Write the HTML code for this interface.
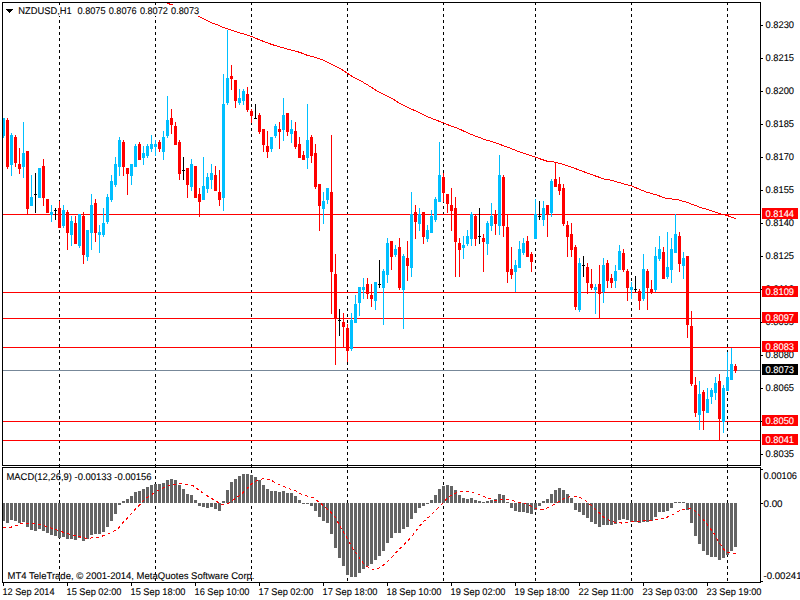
<!DOCTYPE html>
<html><head><meta charset="utf-8"><style>
html,body{margin:0;padding:0;background:#fff;width:800px;height:600px;overflow:hidden}
svg{display:block}
text{font-family:"Liberation Sans",sans-serif;text-rendering:geometricPrecision}
</style></head><body>
<svg width="800" height="600" viewBox="0 0 800 600" shape-rendering="crispEdges">
<rect x="0" y="0" width="800" height="600" fill="#fff"/>
<rect x="59" y="3" width="1" height="2" fill="#000"/>
<rect x="59" y="8" width="1" height="3" fill="#000"/>
<rect x="59" y="14" width="1" height="3" fill="#000"/>
<rect x="59" y="20" width="1" height="3" fill="#000"/>
<rect x="59" y="26" width="1" height="3" fill="#000"/>
<rect x="59" y="32" width="1" height="3" fill="#000"/>
<rect x="59" y="38" width="1" height="3" fill="#000"/>
<rect x="59" y="44" width="1" height="3" fill="#000"/>
<rect x="59" y="50" width="1" height="3" fill="#000"/>
<rect x="59" y="56" width="1" height="3" fill="#000"/>
<rect x="59" y="62" width="1" height="3" fill="#000"/>
<rect x="59" y="68" width="1" height="3" fill="#000"/>
<rect x="59" y="74" width="1" height="3" fill="#000"/>
<rect x="59" y="80" width="1" height="3" fill="#000"/>
<rect x="59" y="86" width="1" height="3" fill="#000"/>
<rect x="59" y="92" width="1" height="3" fill="#000"/>
<rect x="59" y="98" width="1" height="3" fill="#000"/>
<rect x="59" y="104" width="1" height="3" fill="#000"/>
<rect x="59" y="110" width="1" height="3" fill="#000"/>
<rect x="59" y="116" width="1" height="3" fill="#000"/>
<rect x="59" y="122" width="1" height="3" fill="#000"/>
<rect x="59" y="128" width="1" height="3" fill="#000"/>
<rect x="59" y="134" width="1" height="3" fill="#000"/>
<rect x="59" y="140" width="1" height="3" fill="#000"/>
<rect x="59" y="146" width="1" height="3" fill="#000"/>
<rect x="59" y="152" width="1" height="3" fill="#000"/>
<rect x="59" y="158" width="1" height="3" fill="#000"/>
<rect x="59" y="164" width="1" height="3" fill="#000"/>
<rect x="59" y="170" width="1" height="3" fill="#000"/>
<rect x="59" y="176" width="1" height="3" fill="#000"/>
<rect x="59" y="182" width="1" height="3" fill="#000"/>
<rect x="59" y="188" width="1" height="3" fill="#000"/>
<rect x="59" y="194" width="1" height="3" fill="#000"/>
<rect x="59" y="200" width="1" height="3" fill="#000"/>
<rect x="59" y="206" width="1" height="3" fill="#000"/>
<rect x="59" y="212" width="1" height="3" fill="#000"/>
<rect x="59" y="218" width="1" height="3" fill="#000"/>
<rect x="59" y="224" width="1" height="3" fill="#000"/>
<rect x="59" y="230" width="1" height="3" fill="#000"/>
<rect x="59" y="236" width="1" height="3" fill="#000"/>
<rect x="59" y="242" width="1" height="3" fill="#000"/>
<rect x="59" y="248" width="1" height="3" fill="#000"/>
<rect x="59" y="254" width="1" height="3" fill="#000"/>
<rect x="59" y="260" width="1" height="3" fill="#000"/>
<rect x="59" y="266" width="1" height="3" fill="#000"/>
<rect x="59" y="272" width="1" height="3" fill="#000"/>
<rect x="59" y="278" width="1" height="3" fill="#000"/>
<rect x="59" y="284" width="1" height="3" fill="#000"/>
<rect x="59" y="290" width="1" height="3" fill="#000"/>
<rect x="59" y="296" width="1" height="3" fill="#000"/>
<rect x="59" y="302" width="1" height="3" fill="#000"/>
<rect x="59" y="308" width="1" height="3" fill="#000"/>
<rect x="59" y="314" width="1" height="3" fill="#000"/>
<rect x="59" y="320" width="1" height="3" fill="#000"/>
<rect x="59" y="326" width="1" height="3" fill="#000"/>
<rect x="59" y="332" width="1" height="3" fill="#000"/>
<rect x="59" y="338" width="1" height="3" fill="#000"/>
<rect x="59" y="344" width="1" height="3" fill="#000"/>
<rect x="59" y="350" width="1" height="3" fill="#000"/>
<rect x="59" y="356" width="1" height="3" fill="#000"/>
<rect x="59" y="362" width="1" height="3" fill="#000"/>
<rect x="59" y="368" width="1" height="3" fill="#000"/>
<rect x="59" y="374" width="1" height="3" fill="#000"/>
<rect x="59" y="380" width="1" height="3" fill="#000"/>
<rect x="59" y="386" width="1" height="3" fill="#000"/>
<rect x="59" y="392" width="1" height="3" fill="#000"/>
<rect x="59" y="398" width="1" height="3" fill="#000"/>
<rect x="59" y="404" width="1" height="3" fill="#000"/>
<rect x="59" y="410" width="1" height="3" fill="#000"/>
<rect x="59" y="416" width="1" height="3" fill="#000"/>
<rect x="59" y="422" width="1" height="3" fill="#000"/>
<rect x="59" y="428" width="1" height="3" fill="#000"/>
<rect x="59" y="434" width="1" height="3" fill="#000"/>
<rect x="59" y="440" width="1" height="3" fill="#000"/>
<rect x="59" y="446" width="1" height="3" fill="#000"/>
<rect x="59" y="452" width="1" height="3" fill="#000"/>
<rect x="59" y="458" width="1" height="3" fill="#000"/>
<rect x="59" y="464" width="1" height="3" fill="#000"/>
<rect x="59" y="470" width="1" height="3" fill="#000"/>
<rect x="59" y="476" width="1" height="3" fill="#000"/>
<rect x="59" y="482" width="1" height="3" fill="#000"/>
<rect x="59" y="488" width="1" height="3" fill="#000"/>
<rect x="59" y="494" width="1" height="3" fill="#000"/>
<rect x="59" y="500" width="1" height="3" fill="#000"/>
<rect x="59" y="506" width="1" height="3" fill="#000"/>
<rect x="59" y="512" width="1" height="3" fill="#000"/>
<rect x="59" y="518" width="1" height="3" fill="#000"/>
<rect x="59" y="524" width="1" height="3" fill="#000"/>
<rect x="59" y="530" width="1" height="3" fill="#000"/>
<rect x="59" y="536" width="1" height="3" fill="#000"/>
<rect x="59" y="542" width="1" height="3" fill="#000"/>
<rect x="59" y="548" width="1" height="3" fill="#000"/>
<rect x="59" y="554" width="1" height="3" fill="#000"/>
<rect x="59" y="560" width="1" height="3" fill="#000"/>
<rect x="59" y="566" width="1" height="3" fill="#000"/>
<rect x="59" y="572" width="1" height="3" fill="#000"/>
<rect x="59" y="578" width="1" height="3" fill="#000"/>
<rect x="155" y="3" width="1" height="2" fill="#000"/>
<rect x="155" y="8" width="1" height="3" fill="#000"/>
<rect x="155" y="14" width="1" height="3" fill="#000"/>
<rect x="155" y="20" width="1" height="3" fill="#000"/>
<rect x="155" y="26" width="1" height="3" fill="#000"/>
<rect x="155" y="32" width="1" height="3" fill="#000"/>
<rect x="155" y="38" width="1" height="3" fill="#000"/>
<rect x="155" y="44" width="1" height="3" fill="#000"/>
<rect x="155" y="50" width="1" height="3" fill="#000"/>
<rect x="155" y="56" width="1" height="3" fill="#000"/>
<rect x="155" y="62" width="1" height="3" fill="#000"/>
<rect x="155" y="68" width="1" height="3" fill="#000"/>
<rect x="155" y="74" width="1" height="3" fill="#000"/>
<rect x="155" y="80" width="1" height="3" fill="#000"/>
<rect x="155" y="86" width="1" height="3" fill="#000"/>
<rect x="155" y="92" width="1" height="3" fill="#000"/>
<rect x="155" y="98" width="1" height="3" fill="#000"/>
<rect x="155" y="104" width="1" height="3" fill="#000"/>
<rect x="155" y="110" width="1" height="3" fill="#000"/>
<rect x="155" y="116" width="1" height="3" fill="#000"/>
<rect x="155" y="122" width="1" height="3" fill="#000"/>
<rect x="155" y="128" width="1" height="3" fill="#000"/>
<rect x="155" y="134" width="1" height="3" fill="#000"/>
<rect x="155" y="140" width="1" height="3" fill="#000"/>
<rect x="155" y="146" width="1" height="3" fill="#000"/>
<rect x="155" y="152" width="1" height="3" fill="#000"/>
<rect x="155" y="158" width="1" height="3" fill="#000"/>
<rect x="155" y="164" width="1" height="3" fill="#000"/>
<rect x="155" y="170" width="1" height="3" fill="#000"/>
<rect x="155" y="176" width="1" height="3" fill="#000"/>
<rect x="155" y="182" width="1" height="3" fill="#000"/>
<rect x="155" y="188" width="1" height="3" fill="#000"/>
<rect x="155" y="194" width="1" height="3" fill="#000"/>
<rect x="155" y="200" width="1" height="3" fill="#000"/>
<rect x="155" y="206" width="1" height="3" fill="#000"/>
<rect x="155" y="212" width="1" height="3" fill="#000"/>
<rect x="155" y="218" width="1" height="3" fill="#000"/>
<rect x="155" y="224" width="1" height="3" fill="#000"/>
<rect x="155" y="230" width="1" height="3" fill="#000"/>
<rect x="155" y="236" width="1" height="3" fill="#000"/>
<rect x="155" y="242" width="1" height="3" fill="#000"/>
<rect x="155" y="248" width="1" height="3" fill="#000"/>
<rect x="155" y="254" width="1" height="3" fill="#000"/>
<rect x="155" y="260" width="1" height="3" fill="#000"/>
<rect x="155" y="266" width="1" height="3" fill="#000"/>
<rect x="155" y="272" width="1" height="3" fill="#000"/>
<rect x="155" y="278" width="1" height="3" fill="#000"/>
<rect x="155" y="284" width="1" height="3" fill="#000"/>
<rect x="155" y="290" width="1" height="3" fill="#000"/>
<rect x="155" y="296" width="1" height="3" fill="#000"/>
<rect x="155" y="302" width="1" height="3" fill="#000"/>
<rect x="155" y="308" width="1" height="3" fill="#000"/>
<rect x="155" y="314" width="1" height="3" fill="#000"/>
<rect x="155" y="320" width="1" height="3" fill="#000"/>
<rect x="155" y="326" width="1" height="3" fill="#000"/>
<rect x="155" y="332" width="1" height="3" fill="#000"/>
<rect x="155" y="338" width="1" height="3" fill="#000"/>
<rect x="155" y="344" width="1" height="3" fill="#000"/>
<rect x="155" y="350" width="1" height="3" fill="#000"/>
<rect x="155" y="356" width="1" height="3" fill="#000"/>
<rect x="155" y="362" width="1" height="3" fill="#000"/>
<rect x="155" y="368" width="1" height="3" fill="#000"/>
<rect x="155" y="374" width="1" height="3" fill="#000"/>
<rect x="155" y="380" width="1" height="3" fill="#000"/>
<rect x="155" y="386" width="1" height="3" fill="#000"/>
<rect x="155" y="392" width="1" height="3" fill="#000"/>
<rect x="155" y="398" width="1" height="3" fill="#000"/>
<rect x="155" y="404" width="1" height="3" fill="#000"/>
<rect x="155" y="410" width="1" height="3" fill="#000"/>
<rect x="155" y="416" width="1" height="3" fill="#000"/>
<rect x="155" y="422" width="1" height="3" fill="#000"/>
<rect x="155" y="428" width="1" height="3" fill="#000"/>
<rect x="155" y="434" width="1" height="3" fill="#000"/>
<rect x="155" y="440" width="1" height="3" fill="#000"/>
<rect x="155" y="446" width="1" height="3" fill="#000"/>
<rect x="155" y="452" width="1" height="3" fill="#000"/>
<rect x="155" y="458" width="1" height="3" fill="#000"/>
<rect x="155" y="464" width="1" height="3" fill="#000"/>
<rect x="155" y="470" width="1" height="3" fill="#000"/>
<rect x="155" y="476" width="1" height="3" fill="#000"/>
<rect x="155" y="482" width="1" height="3" fill="#000"/>
<rect x="155" y="488" width="1" height="3" fill="#000"/>
<rect x="155" y="494" width="1" height="3" fill="#000"/>
<rect x="155" y="500" width="1" height="3" fill="#000"/>
<rect x="155" y="506" width="1" height="3" fill="#000"/>
<rect x="155" y="512" width="1" height="3" fill="#000"/>
<rect x="155" y="518" width="1" height="3" fill="#000"/>
<rect x="155" y="524" width="1" height="3" fill="#000"/>
<rect x="155" y="530" width="1" height="3" fill="#000"/>
<rect x="155" y="536" width="1" height="3" fill="#000"/>
<rect x="155" y="542" width="1" height="3" fill="#000"/>
<rect x="155" y="548" width="1" height="3" fill="#000"/>
<rect x="155" y="554" width="1" height="3" fill="#000"/>
<rect x="155" y="560" width="1" height="3" fill="#000"/>
<rect x="155" y="566" width="1" height="3" fill="#000"/>
<rect x="155" y="572" width="1" height="3" fill="#000"/>
<rect x="155" y="578" width="1" height="3" fill="#000"/>
<rect x="251" y="3" width="1" height="2" fill="#000"/>
<rect x="251" y="8" width="1" height="3" fill="#000"/>
<rect x="251" y="14" width="1" height="3" fill="#000"/>
<rect x="251" y="20" width="1" height="3" fill="#000"/>
<rect x="251" y="26" width="1" height="3" fill="#000"/>
<rect x="251" y="32" width="1" height="3" fill="#000"/>
<rect x="251" y="38" width="1" height="3" fill="#000"/>
<rect x="251" y="44" width="1" height="3" fill="#000"/>
<rect x="251" y="50" width="1" height="3" fill="#000"/>
<rect x="251" y="56" width="1" height="3" fill="#000"/>
<rect x="251" y="62" width="1" height="3" fill="#000"/>
<rect x="251" y="68" width="1" height="3" fill="#000"/>
<rect x="251" y="74" width="1" height="3" fill="#000"/>
<rect x="251" y="80" width="1" height="3" fill="#000"/>
<rect x="251" y="86" width="1" height="3" fill="#000"/>
<rect x="251" y="92" width="1" height="3" fill="#000"/>
<rect x="251" y="98" width="1" height="3" fill="#000"/>
<rect x="251" y="104" width="1" height="3" fill="#000"/>
<rect x="251" y="110" width="1" height="3" fill="#000"/>
<rect x="251" y="116" width="1" height="3" fill="#000"/>
<rect x="251" y="122" width="1" height="3" fill="#000"/>
<rect x="251" y="128" width="1" height="3" fill="#000"/>
<rect x="251" y="134" width="1" height="3" fill="#000"/>
<rect x="251" y="140" width="1" height="3" fill="#000"/>
<rect x="251" y="146" width="1" height="3" fill="#000"/>
<rect x="251" y="152" width="1" height="3" fill="#000"/>
<rect x="251" y="158" width="1" height="3" fill="#000"/>
<rect x="251" y="164" width="1" height="3" fill="#000"/>
<rect x="251" y="170" width="1" height="3" fill="#000"/>
<rect x="251" y="176" width="1" height="3" fill="#000"/>
<rect x="251" y="182" width="1" height="3" fill="#000"/>
<rect x="251" y="188" width="1" height="3" fill="#000"/>
<rect x="251" y="194" width="1" height="3" fill="#000"/>
<rect x="251" y="200" width="1" height="3" fill="#000"/>
<rect x="251" y="206" width="1" height="3" fill="#000"/>
<rect x="251" y="212" width="1" height="3" fill="#000"/>
<rect x="251" y="218" width="1" height="3" fill="#000"/>
<rect x="251" y="224" width="1" height="3" fill="#000"/>
<rect x="251" y="230" width="1" height="3" fill="#000"/>
<rect x="251" y="236" width="1" height="3" fill="#000"/>
<rect x="251" y="242" width="1" height="3" fill="#000"/>
<rect x="251" y="248" width="1" height="3" fill="#000"/>
<rect x="251" y="254" width="1" height="3" fill="#000"/>
<rect x="251" y="260" width="1" height="3" fill="#000"/>
<rect x="251" y="266" width="1" height="3" fill="#000"/>
<rect x="251" y="272" width="1" height="3" fill="#000"/>
<rect x="251" y="278" width="1" height="3" fill="#000"/>
<rect x="251" y="284" width="1" height="3" fill="#000"/>
<rect x="251" y="290" width="1" height="3" fill="#000"/>
<rect x="251" y="296" width="1" height="3" fill="#000"/>
<rect x="251" y="302" width="1" height="3" fill="#000"/>
<rect x="251" y="308" width="1" height="3" fill="#000"/>
<rect x="251" y="314" width="1" height="3" fill="#000"/>
<rect x="251" y="320" width="1" height="3" fill="#000"/>
<rect x="251" y="326" width="1" height="3" fill="#000"/>
<rect x="251" y="332" width="1" height="3" fill="#000"/>
<rect x="251" y="338" width="1" height="3" fill="#000"/>
<rect x="251" y="344" width="1" height="3" fill="#000"/>
<rect x="251" y="350" width="1" height="3" fill="#000"/>
<rect x="251" y="356" width="1" height="3" fill="#000"/>
<rect x="251" y="362" width="1" height="3" fill="#000"/>
<rect x="251" y="368" width="1" height="3" fill="#000"/>
<rect x="251" y="374" width="1" height="3" fill="#000"/>
<rect x="251" y="380" width="1" height="3" fill="#000"/>
<rect x="251" y="386" width="1" height="3" fill="#000"/>
<rect x="251" y="392" width="1" height="3" fill="#000"/>
<rect x="251" y="398" width="1" height="3" fill="#000"/>
<rect x="251" y="404" width="1" height="3" fill="#000"/>
<rect x="251" y="410" width="1" height="3" fill="#000"/>
<rect x="251" y="416" width="1" height="3" fill="#000"/>
<rect x="251" y="422" width="1" height="3" fill="#000"/>
<rect x="251" y="428" width="1" height="3" fill="#000"/>
<rect x="251" y="434" width="1" height="3" fill="#000"/>
<rect x="251" y="440" width="1" height="3" fill="#000"/>
<rect x="251" y="446" width="1" height="3" fill="#000"/>
<rect x="251" y="452" width="1" height="3" fill="#000"/>
<rect x="251" y="458" width="1" height="3" fill="#000"/>
<rect x="251" y="464" width="1" height="3" fill="#000"/>
<rect x="251" y="470" width="1" height="3" fill="#000"/>
<rect x="251" y="476" width="1" height="3" fill="#000"/>
<rect x="251" y="482" width="1" height="3" fill="#000"/>
<rect x="251" y="488" width="1" height="3" fill="#000"/>
<rect x="251" y="494" width="1" height="3" fill="#000"/>
<rect x="251" y="500" width="1" height="3" fill="#000"/>
<rect x="251" y="506" width="1" height="3" fill="#000"/>
<rect x="251" y="512" width="1" height="3" fill="#000"/>
<rect x="251" y="518" width="1" height="3" fill="#000"/>
<rect x="251" y="524" width="1" height="3" fill="#000"/>
<rect x="251" y="530" width="1" height="3" fill="#000"/>
<rect x="251" y="536" width="1" height="3" fill="#000"/>
<rect x="251" y="542" width="1" height="3" fill="#000"/>
<rect x="251" y="548" width="1" height="3" fill="#000"/>
<rect x="251" y="554" width="1" height="3" fill="#000"/>
<rect x="251" y="560" width="1" height="3" fill="#000"/>
<rect x="251" y="566" width="1" height="3" fill="#000"/>
<rect x="251" y="572" width="1" height="3" fill="#000"/>
<rect x="251" y="578" width="1" height="3" fill="#000"/>
<rect x="347" y="3" width="1" height="2" fill="#000"/>
<rect x="347" y="8" width="1" height="3" fill="#000"/>
<rect x="347" y="14" width="1" height="3" fill="#000"/>
<rect x="347" y="20" width="1" height="3" fill="#000"/>
<rect x="347" y="26" width="1" height="3" fill="#000"/>
<rect x="347" y="32" width="1" height="3" fill="#000"/>
<rect x="347" y="38" width="1" height="3" fill="#000"/>
<rect x="347" y="44" width="1" height="3" fill="#000"/>
<rect x="347" y="50" width="1" height="3" fill="#000"/>
<rect x="347" y="56" width="1" height="3" fill="#000"/>
<rect x="347" y="62" width="1" height="3" fill="#000"/>
<rect x="347" y="68" width="1" height="3" fill="#000"/>
<rect x="347" y="74" width="1" height="3" fill="#000"/>
<rect x="347" y="80" width="1" height="3" fill="#000"/>
<rect x="347" y="86" width="1" height="3" fill="#000"/>
<rect x="347" y="92" width="1" height="3" fill="#000"/>
<rect x="347" y="98" width="1" height="3" fill="#000"/>
<rect x="347" y="104" width="1" height="3" fill="#000"/>
<rect x="347" y="110" width="1" height="3" fill="#000"/>
<rect x="347" y="116" width="1" height="3" fill="#000"/>
<rect x="347" y="122" width="1" height="3" fill="#000"/>
<rect x="347" y="128" width="1" height="3" fill="#000"/>
<rect x="347" y="134" width="1" height="3" fill="#000"/>
<rect x="347" y="140" width="1" height="3" fill="#000"/>
<rect x="347" y="146" width="1" height="3" fill="#000"/>
<rect x="347" y="152" width="1" height="3" fill="#000"/>
<rect x="347" y="158" width="1" height="3" fill="#000"/>
<rect x="347" y="164" width="1" height="3" fill="#000"/>
<rect x="347" y="170" width="1" height="3" fill="#000"/>
<rect x="347" y="176" width="1" height="3" fill="#000"/>
<rect x="347" y="182" width="1" height="3" fill="#000"/>
<rect x="347" y="188" width="1" height="3" fill="#000"/>
<rect x="347" y="194" width="1" height="3" fill="#000"/>
<rect x="347" y="200" width="1" height="3" fill="#000"/>
<rect x="347" y="206" width="1" height="3" fill="#000"/>
<rect x="347" y="212" width="1" height="3" fill="#000"/>
<rect x="347" y="218" width="1" height="3" fill="#000"/>
<rect x="347" y="224" width="1" height="3" fill="#000"/>
<rect x="347" y="230" width="1" height="3" fill="#000"/>
<rect x="347" y="236" width="1" height="3" fill="#000"/>
<rect x="347" y="242" width="1" height="3" fill="#000"/>
<rect x="347" y="248" width="1" height="3" fill="#000"/>
<rect x="347" y="254" width="1" height="3" fill="#000"/>
<rect x="347" y="260" width="1" height="3" fill="#000"/>
<rect x="347" y="266" width="1" height="3" fill="#000"/>
<rect x="347" y="272" width="1" height="3" fill="#000"/>
<rect x="347" y="278" width="1" height="3" fill="#000"/>
<rect x="347" y="284" width="1" height="3" fill="#000"/>
<rect x="347" y="290" width="1" height="3" fill="#000"/>
<rect x="347" y="296" width="1" height="3" fill="#000"/>
<rect x="347" y="302" width="1" height="3" fill="#000"/>
<rect x="347" y="308" width="1" height="3" fill="#000"/>
<rect x="347" y="314" width="1" height="3" fill="#000"/>
<rect x="347" y="320" width="1" height="3" fill="#000"/>
<rect x="347" y="326" width="1" height="3" fill="#000"/>
<rect x="347" y="332" width="1" height="3" fill="#000"/>
<rect x="347" y="338" width="1" height="3" fill="#000"/>
<rect x="347" y="344" width="1" height="3" fill="#000"/>
<rect x="347" y="350" width="1" height="3" fill="#000"/>
<rect x="347" y="356" width="1" height="3" fill="#000"/>
<rect x="347" y="362" width="1" height="3" fill="#000"/>
<rect x="347" y="368" width="1" height="3" fill="#000"/>
<rect x="347" y="374" width="1" height="3" fill="#000"/>
<rect x="347" y="380" width="1" height="3" fill="#000"/>
<rect x="347" y="386" width="1" height="3" fill="#000"/>
<rect x="347" y="392" width="1" height="3" fill="#000"/>
<rect x="347" y="398" width="1" height="3" fill="#000"/>
<rect x="347" y="404" width="1" height="3" fill="#000"/>
<rect x="347" y="410" width="1" height="3" fill="#000"/>
<rect x="347" y="416" width="1" height="3" fill="#000"/>
<rect x="347" y="422" width="1" height="3" fill="#000"/>
<rect x="347" y="428" width="1" height="3" fill="#000"/>
<rect x="347" y="434" width="1" height="3" fill="#000"/>
<rect x="347" y="440" width="1" height="3" fill="#000"/>
<rect x="347" y="446" width="1" height="3" fill="#000"/>
<rect x="347" y="452" width="1" height="3" fill="#000"/>
<rect x="347" y="458" width="1" height="3" fill="#000"/>
<rect x="347" y="464" width="1" height="3" fill="#000"/>
<rect x="347" y="470" width="1" height="3" fill="#000"/>
<rect x="347" y="476" width="1" height="3" fill="#000"/>
<rect x="347" y="482" width="1" height="3" fill="#000"/>
<rect x="347" y="488" width="1" height="3" fill="#000"/>
<rect x="347" y="494" width="1" height="3" fill="#000"/>
<rect x="347" y="500" width="1" height="3" fill="#000"/>
<rect x="347" y="506" width="1" height="3" fill="#000"/>
<rect x="347" y="512" width="1" height="3" fill="#000"/>
<rect x="347" y="518" width="1" height="3" fill="#000"/>
<rect x="347" y="524" width="1" height="3" fill="#000"/>
<rect x="347" y="530" width="1" height="3" fill="#000"/>
<rect x="347" y="536" width="1" height="3" fill="#000"/>
<rect x="347" y="542" width="1" height="3" fill="#000"/>
<rect x="347" y="548" width="1" height="3" fill="#000"/>
<rect x="347" y="554" width="1" height="3" fill="#000"/>
<rect x="347" y="560" width="1" height="3" fill="#000"/>
<rect x="347" y="566" width="1" height="3" fill="#000"/>
<rect x="347" y="572" width="1" height="3" fill="#000"/>
<rect x="347" y="578" width="1" height="3" fill="#000"/>
<rect x="443" y="3" width="1" height="2" fill="#000"/>
<rect x="443" y="8" width="1" height="3" fill="#000"/>
<rect x="443" y="14" width="1" height="3" fill="#000"/>
<rect x="443" y="20" width="1" height="3" fill="#000"/>
<rect x="443" y="26" width="1" height="3" fill="#000"/>
<rect x="443" y="32" width="1" height="3" fill="#000"/>
<rect x="443" y="38" width="1" height="3" fill="#000"/>
<rect x="443" y="44" width="1" height="3" fill="#000"/>
<rect x="443" y="50" width="1" height="3" fill="#000"/>
<rect x="443" y="56" width="1" height="3" fill="#000"/>
<rect x="443" y="62" width="1" height="3" fill="#000"/>
<rect x="443" y="68" width="1" height="3" fill="#000"/>
<rect x="443" y="74" width="1" height="3" fill="#000"/>
<rect x="443" y="80" width="1" height="3" fill="#000"/>
<rect x="443" y="86" width="1" height="3" fill="#000"/>
<rect x="443" y="92" width="1" height="3" fill="#000"/>
<rect x="443" y="98" width="1" height="3" fill="#000"/>
<rect x="443" y="104" width="1" height="3" fill="#000"/>
<rect x="443" y="110" width="1" height="3" fill="#000"/>
<rect x="443" y="116" width="1" height="3" fill="#000"/>
<rect x="443" y="122" width="1" height="3" fill="#000"/>
<rect x="443" y="128" width="1" height="3" fill="#000"/>
<rect x="443" y="134" width="1" height="3" fill="#000"/>
<rect x="443" y="140" width="1" height="3" fill="#000"/>
<rect x="443" y="146" width="1" height="3" fill="#000"/>
<rect x="443" y="152" width="1" height="3" fill="#000"/>
<rect x="443" y="158" width="1" height="3" fill="#000"/>
<rect x="443" y="164" width="1" height="3" fill="#000"/>
<rect x="443" y="170" width="1" height="3" fill="#000"/>
<rect x="443" y="176" width="1" height="3" fill="#000"/>
<rect x="443" y="182" width="1" height="3" fill="#000"/>
<rect x="443" y="188" width="1" height="3" fill="#000"/>
<rect x="443" y="194" width="1" height="3" fill="#000"/>
<rect x="443" y="200" width="1" height="3" fill="#000"/>
<rect x="443" y="206" width="1" height="3" fill="#000"/>
<rect x="443" y="212" width="1" height="3" fill="#000"/>
<rect x="443" y="218" width="1" height="3" fill="#000"/>
<rect x="443" y="224" width="1" height="3" fill="#000"/>
<rect x="443" y="230" width="1" height="3" fill="#000"/>
<rect x="443" y="236" width="1" height="3" fill="#000"/>
<rect x="443" y="242" width="1" height="3" fill="#000"/>
<rect x="443" y="248" width="1" height="3" fill="#000"/>
<rect x="443" y="254" width="1" height="3" fill="#000"/>
<rect x="443" y="260" width="1" height="3" fill="#000"/>
<rect x="443" y="266" width="1" height="3" fill="#000"/>
<rect x="443" y="272" width="1" height="3" fill="#000"/>
<rect x="443" y="278" width="1" height="3" fill="#000"/>
<rect x="443" y="284" width="1" height="3" fill="#000"/>
<rect x="443" y="290" width="1" height="3" fill="#000"/>
<rect x="443" y="296" width="1" height="3" fill="#000"/>
<rect x="443" y="302" width="1" height="3" fill="#000"/>
<rect x="443" y="308" width="1" height="3" fill="#000"/>
<rect x="443" y="314" width="1" height="3" fill="#000"/>
<rect x="443" y="320" width="1" height="3" fill="#000"/>
<rect x="443" y="326" width="1" height="3" fill="#000"/>
<rect x="443" y="332" width="1" height="3" fill="#000"/>
<rect x="443" y="338" width="1" height="3" fill="#000"/>
<rect x="443" y="344" width="1" height="3" fill="#000"/>
<rect x="443" y="350" width="1" height="3" fill="#000"/>
<rect x="443" y="356" width="1" height="3" fill="#000"/>
<rect x="443" y="362" width="1" height="3" fill="#000"/>
<rect x="443" y="368" width="1" height="3" fill="#000"/>
<rect x="443" y="374" width="1" height="3" fill="#000"/>
<rect x="443" y="380" width="1" height="3" fill="#000"/>
<rect x="443" y="386" width="1" height="3" fill="#000"/>
<rect x="443" y="392" width="1" height="3" fill="#000"/>
<rect x="443" y="398" width="1" height="3" fill="#000"/>
<rect x="443" y="404" width="1" height="3" fill="#000"/>
<rect x="443" y="410" width="1" height="3" fill="#000"/>
<rect x="443" y="416" width="1" height="3" fill="#000"/>
<rect x="443" y="422" width="1" height="3" fill="#000"/>
<rect x="443" y="428" width="1" height="3" fill="#000"/>
<rect x="443" y="434" width="1" height="3" fill="#000"/>
<rect x="443" y="440" width="1" height="3" fill="#000"/>
<rect x="443" y="446" width="1" height="3" fill="#000"/>
<rect x="443" y="452" width="1" height="3" fill="#000"/>
<rect x="443" y="458" width="1" height="3" fill="#000"/>
<rect x="443" y="464" width="1" height="3" fill="#000"/>
<rect x="443" y="470" width="1" height="3" fill="#000"/>
<rect x="443" y="476" width="1" height="3" fill="#000"/>
<rect x="443" y="482" width="1" height="3" fill="#000"/>
<rect x="443" y="488" width="1" height="3" fill="#000"/>
<rect x="443" y="494" width="1" height="3" fill="#000"/>
<rect x="443" y="500" width="1" height="3" fill="#000"/>
<rect x="443" y="506" width="1" height="3" fill="#000"/>
<rect x="443" y="512" width="1" height="3" fill="#000"/>
<rect x="443" y="518" width="1" height="3" fill="#000"/>
<rect x="443" y="524" width="1" height="3" fill="#000"/>
<rect x="443" y="530" width="1" height="3" fill="#000"/>
<rect x="443" y="536" width="1" height="3" fill="#000"/>
<rect x="443" y="542" width="1" height="3" fill="#000"/>
<rect x="443" y="548" width="1" height="3" fill="#000"/>
<rect x="443" y="554" width="1" height="3" fill="#000"/>
<rect x="443" y="560" width="1" height="3" fill="#000"/>
<rect x="443" y="566" width="1" height="3" fill="#000"/>
<rect x="443" y="572" width="1" height="3" fill="#000"/>
<rect x="443" y="578" width="1" height="3" fill="#000"/>
<rect x="535" y="3" width="1" height="2" fill="#000"/>
<rect x="535" y="8" width="1" height="3" fill="#000"/>
<rect x="535" y="14" width="1" height="3" fill="#000"/>
<rect x="535" y="20" width="1" height="3" fill="#000"/>
<rect x="535" y="26" width="1" height="3" fill="#000"/>
<rect x="535" y="32" width="1" height="3" fill="#000"/>
<rect x="535" y="38" width="1" height="3" fill="#000"/>
<rect x="535" y="44" width="1" height="3" fill="#000"/>
<rect x="535" y="50" width="1" height="3" fill="#000"/>
<rect x="535" y="56" width="1" height="3" fill="#000"/>
<rect x="535" y="62" width="1" height="3" fill="#000"/>
<rect x="535" y="68" width="1" height="3" fill="#000"/>
<rect x="535" y="74" width="1" height="3" fill="#000"/>
<rect x="535" y="80" width="1" height="3" fill="#000"/>
<rect x="535" y="86" width="1" height="3" fill="#000"/>
<rect x="535" y="92" width="1" height="3" fill="#000"/>
<rect x="535" y="98" width="1" height="3" fill="#000"/>
<rect x="535" y="104" width="1" height="3" fill="#000"/>
<rect x="535" y="110" width="1" height="3" fill="#000"/>
<rect x="535" y="116" width="1" height="3" fill="#000"/>
<rect x="535" y="122" width="1" height="3" fill="#000"/>
<rect x="535" y="128" width="1" height="3" fill="#000"/>
<rect x="535" y="134" width="1" height="3" fill="#000"/>
<rect x="535" y="140" width="1" height="3" fill="#000"/>
<rect x="535" y="146" width="1" height="3" fill="#000"/>
<rect x="535" y="152" width="1" height="3" fill="#000"/>
<rect x="535" y="158" width="1" height="3" fill="#000"/>
<rect x="535" y="164" width="1" height="3" fill="#000"/>
<rect x="535" y="170" width="1" height="3" fill="#000"/>
<rect x="535" y="176" width="1" height="3" fill="#000"/>
<rect x="535" y="182" width="1" height="3" fill="#000"/>
<rect x="535" y="188" width="1" height="3" fill="#000"/>
<rect x="535" y="194" width="1" height="3" fill="#000"/>
<rect x="535" y="200" width="1" height="3" fill="#000"/>
<rect x="535" y="206" width="1" height="3" fill="#000"/>
<rect x="535" y="212" width="1" height="3" fill="#000"/>
<rect x="535" y="218" width="1" height="3" fill="#000"/>
<rect x="535" y="224" width="1" height="3" fill="#000"/>
<rect x="535" y="230" width="1" height="3" fill="#000"/>
<rect x="535" y="236" width="1" height="3" fill="#000"/>
<rect x="535" y="242" width="1" height="3" fill="#000"/>
<rect x="535" y="248" width="1" height="3" fill="#000"/>
<rect x="535" y="254" width="1" height="3" fill="#000"/>
<rect x="535" y="260" width="1" height="3" fill="#000"/>
<rect x="535" y="266" width="1" height="3" fill="#000"/>
<rect x="535" y="272" width="1" height="3" fill="#000"/>
<rect x="535" y="278" width="1" height="3" fill="#000"/>
<rect x="535" y="284" width="1" height="3" fill="#000"/>
<rect x="535" y="290" width="1" height="3" fill="#000"/>
<rect x="535" y="296" width="1" height="3" fill="#000"/>
<rect x="535" y="302" width="1" height="3" fill="#000"/>
<rect x="535" y="308" width="1" height="3" fill="#000"/>
<rect x="535" y="314" width="1" height="3" fill="#000"/>
<rect x="535" y="320" width="1" height="3" fill="#000"/>
<rect x="535" y="326" width="1" height="3" fill="#000"/>
<rect x="535" y="332" width="1" height="3" fill="#000"/>
<rect x="535" y="338" width="1" height="3" fill="#000"/>
<rect x="535" y="344" width="1" height="3" fill="#000"/>
<rect x="535" y="350" width="1" height="3" fill="#000"/>
<rect x="535" y="356" width="1" height="3" fill="#000"/>
<rect x="535" y="362" width="1" height="3" fill="#000"/>
<rect x="535" y="368" width="1" height="3" fill="#000"/>
<rect x="535" y="374" width="1" height="3" fill="#000"/>
<rect x="535" y="380" width="1" height="3" fill="#000"/>
<rect x="535" y="386" width="1" height="3" fill="#000"/>
<rect x="535" y="392" width="1" height="3" fill="#000"/>
<rect x="535" y="398" width="1" height="3" fill="#000"/>
<rect x="535" y="404" width="1" height="3" fill="#000"/>
<rect x="535" y="410" width="1" height="3" fill="#000"/>
<rect x="535" y="416" width="1" height="3" fill="#000"/>
<rect x="535" y="422" width="1" height="3" fill="#000"/>
<rect x="535" y="428" width="1" height="3" fill="#000"/>
<rect x="535" y="434" width="1" height="3" fill="#000"/>
<rect x="535" y="440" width="1" height="3" fill="#000"/>
<rect x="535" y="446" width="1" height="3" fill="#000"/>
<rect x="535" y="452" width="1" height="3" fill="#000"/>
<rect x="535" y="458" width="1" height="3" fill="#000"/>
<rect x="535" y="464" width="1" height="3" fill="#000"/>
<rect x="535" y="470" width="1" height="3" fill="#000"/>
<rect x="535" y="476" width="1" height="3" fill="#000"/>
<rect x="535" y="482" width="1" height="3" fill="#000"/>
<rect x="535" y="488" width="1" height="3" fill="#000"/>
<rect x="535" y="494" width="1" height="3" fill="#000"/>
<rect x="535" y="500" width="1" height="3" fill="#000"/>
<rect x="535" y="506" width="1" height="3" fill="#000"/>
<rect x="535" y="512" width="1" height="3" fill="#000"/>
<rect x="535" y="518" width="1" height="3" fill="#000"/>
<rect x="535" y="524" width="1" height="3" fill="#000"/>
<rect x="535" y="530" width="1" height="3" fill="#000"/>
<rect x="535" y="536" width="1" height="3" fill="#000"/>
<rect x="535" y="542" width="1" height="3" fill="#000"/>
<rect x="535" y="548" width="1" height="3" fill="#000"/>
<rect x="535" y="554" width="1" height="3" fill="#000"/>
<rect x="535" y="560" width="1" height="3" fill="#000"/>
<rect x="535" y="566" width="1" height="3" fill="#000"/>
<rect x="535" y="572" width="1" height="3" fill="#000"/>
<rect x="535" y="578" width="1" height="3" fill="#000"/>
<rect x="631" y="3" width="1" height="2" fill="#000"/>
<rect x="631" y="8" width="1" height="3" fill="#000"/>
<rect x="631" y="14" width="1" height="3" fill="#000"/>
<rect x="631" y="20" width="1" height="3" fill="#000"/>
<rect x="631" y="26" width="1" height="3" fill="#000"/>
<rect x="631" y="32" width="1" height="3" fill="#000"/>
<rect x="631" y="38" width="1" height="3" fill="#000"/>
<rect x="631" y="44" width="1" height="3" fill="#000"/>
<rect x="631" y="50" width="1" height="3" fill="#000"/>
<rect x="631" y="56" width="1" height="3" fill="#000"/>
<rect x="631" y="62" width="1" height="3" fill="#000"/>
<rect x="631" y="68" width="1" height="3" fill="#000"/>
<rect x="631" y="74" width="1" height="3" fill="#000"/>
<rect x="631" y="80" width="1" height="3" fill="#000"/>
<rect x="631" y="86" width="1" height="3" fill="#000"/>
<rect x="631" y="92" width="1" height="3" fill="#000"/>
<rect x="631" y="98" width="1" height="3" fill="#000"/>
<rect x="631" y="104" width="1" height="3" fill="#000"/>
<rect x="631" y="110" width="1" height="3" fill="#000"/>
<rect x="631" y="116" width="1" height="3" fill="#000"/>
<rect x="631" y="122" width="1" height="3" fill="#000"/>
<rect x="631" y="128" width="1" height="3" fill="#000"/>
<rect x="631" y="134" width="1" height="3" fill="#000"/>
<rect x="631" y="140" width="1" height="3" fill="#000"/>
<rect x="631" y="146" width="1" height="3" fill="#000"/>
<rect x="631" y="152" width="1" height="3" fill="#000"/>
<rect x="631" y="158" width="1" height="3" fill="#000"/>
<rect x="631" y="164" width="1" height="3" fill="#000"/>
<rect x="631" y="170" width="1" height="3" fill="#000"/>
<rect x="631" y="176" width="1" height="3" fill="#000"/>
<rect x="631" y="182" width="1" height="3" fill="#000"/>
<rect x="631" y="188" width="1" height="3" fill="#000"/>
<rect x="631" y="194" width="1" height="3" fill="#000"/>
<rect x="631" y="200" width="1" height="3" fill="#000"/>
<rect x="631" y="206" width="1" height="3" fill="#000"/>
<rect x="631" y="212" width="1" height="3" fill="#000"/>
<rect x="631" y="218" width="1" height="3" fill="#000"/>
<rect x="631" y="224" width="1" height="3" fill="#000"/>
<rect x="631" y="230" width="1" height="3" fill="#000"/>
<rect x="631" y="236" width="1" height="3" fill="#000"/>
<rect x="631" y="242" width="1" height="3" fill="#000"/>
<rect x="631" y="248" width="1" height="3" fill="#000"/>
<rect x="631" y="254" width="1" height="3" fill="#000"/>
<rect x="631" y="260" width="1" height="3" fill="#000"/>
<rect x="631" y="266" width="1" height="3" fill="#000"/>
<rect x="631" y="272" width="1" height="3" fill="#000"/>
<rect x="631" y="278" width="1" height="3" fill="#000"/>
<rect x="631" y="284" width="1" height="3" fill="#000"/>
<rect x="631" y="290" width="1" height="3" fill="#000"/>
<rect x="631" y="296" width="1" height="3" fill="#000"/>
<rect x="631" y="302" width="1" height="3" fill="#000"/>
<rect x="631" y="308" width="1" height="3" fill="#000"/>
<rect x="631" y="314" width="1" height="3" fill="#000"/>
<rect x="631" y="320" width="1" height="3" fill="#000"/>
<rect x="631" y="326" width="1" height="3" fill="#000"/>
<rect x="631" y="332" width="1" height="3" fill="#000"/>
<rect x="631" y="338" width="1" height="3" fill="#000"/>
<rect x="631" y="344" width="1" height="3" fill="#000"/>
<rect x="631" y="350" width="1" height="3" fill="#000"/>
<rect x="631" y="356" width="1" height="3" fill="#000"/>
<rect x="631" y="362" width="1" height="3" fill="#000"/>
<rect x="631" y="368" width="1" height="3" fill="#000"/>
<rect x="631" y="374" width="1" height="3" fill="#000"/>
<rect x="631" y="380" width="1" height="3" fill="#000"/>
<rect x="631" y="386" width="1" height="3" fill="#000"/>
<rect x="631" y="392" width="1" height="3" fill="#000"/>
<rect x="631" y="398" width="1" height="3" fill="#000"/>
<rect x="631" y="404" width="1" height="3" fill="#000"/>
<rect x="631" y="410" width="1" height="3" fill="#000"/>
<rect x="631" y="416" width="1" height="3" fill="#000"/>
<rect x="631" y="422" width="1" height="3" fill="#000"/>
<rect x="631" y="428" width="1" height="3" fill="#000"/>
<rect x="631" y="434" width="1" height="3" fill="#000"/>
<rect x="631" y="440" width="1" height="3" fill="#000"/>
<rect x="631" y="446" width="1" height="3" fill="#000"/>
<rect x="631" y="452" width="1" height="3" fill="#000"/>
<rect x="631" y="458" width="1" height="3" fill="#000"/>
<rect x="631" y="464" width="1" height="3" fill="#000"/>
<rect x="631" y="470" width="1" height="3" fill="#000"/>
<rect x="631" y="476" width="1" height="3" fill="#000"/>
<rect x="631" y="482" width="1" height="3" fill="#000"/>
<rect x="631" y="488" width="1" height="3" fill="#000"/>
<rect x="631" y="494" width="1" height="3" fill="#000"/>
<rect x="631" y="500" width="1" height="3" fill="#000"/>
<rect x="631" y="506" width="1" height="3" fill="#000"/>
<rect x="631" y="512" width="1" height="3" fill="#000"/>
<rect x="631" y="518" width="1" height="3" fill="#000"/>
<rect x="631" y="524" width="1" height="3" fill="#000"/>
<rect x="631" y="530" width="1" height="3" fill="#000"/>
<rect x="631" y="536" width="1" height="3" fill="#000"/>
<rect x="631" y="542" width="1" height="3" fill="#000"/>
<rect x="631" y="548" width="1" height="3" fill="#000"/>
<rect x="631" y="554" width="1" height="3" fill="#000"/>
<rect x="631" y="560" width="1" height="3" fill="#000"/>
<rect x="631" y="566" width="1" height="3" fill="#000"/>
<rect x="631" y="572" width="1" height="3" fill="#000"/>
<rect x="631" y="578" width="1" height="3" fill="#000"/>
<rect x="727" y="3" width="1" height="2" fill="#000"/>
<rect x="727" y="8" width="1" height="3" fill="#000"/>
<rect x="727" y="14" width="1" height="3" fill="#000"/>
<rect x="727" y="20" width="1" height="3" fill="#000"/>
<rect x="727" y="26" width="1" height="3" fill="#000"/>
<rect x="727" y="32" width="1" height="3" fill="#000"/>
<rect x="727" y="38" width="1" height="3" fill="#000"/>
<rect x="727" y="44" width="1" height="3" fill="#000"/>
<rect x="727" y="50" width="1" height="3" fill="#000"/>
<rect x="727" y="56" width="1" height="3" fill="#000"/>
<rect x="727" y="62" width="1" height="3" fill="#000"/>
<rect x="727" y="68" width="1" height="3" fill="#000"/>
<rect x="727" y="74" width="1" height="3" fill="#000"/>
<rect x="727" y="80" width="1" height="3" fill="#000"/>
<rect x="727" y="86" width="1" height="3" fill="#000"/>
<rect x="727" y="92" width="1" height="3" fill="#000"/>
<rect x="727" y="98" width="1" height="3" fill="#000"/>
<rect x="727" y="104" width="1" height="3" fill="#000"/>
<rect x="727" y="110" width="1" height="3" fill="#000"/>
<rect x="727" y="116" width="1" height="3" fill="#000"/>
<rect x="727" y="122" width="1" height="3" fill="#000"/>
<rect x="727" y="128" width="1" height="3" fill="#000"/>
<rect x="727" y="134" width="1" height="3" fill="#000"/>
<rect x="727" y="140" width="1" height="3" fill="#000"/>
<rect x="727" y="146" width="1" height="3" fill="#000"/>
<rect x="727" y="152" width="1" height="3" fill="#000"/>
<rect x="727" y="158" width="1" height="3" fill="#000"/>
<rect x="727" y="164" width="1" height="3" fill="#000"/>
<rect x="727" y="170" width="1" height="3" fill="#000"/>
<rect x="727" y="176" width="1" height="3" fill="#000"/>
<rect x="727" y="182" width="1" height="3" fill="#000"/>
<rect x="727" y="188" width="1" height="3" fill="#000"/>
<rect x="727" y="194" width="1" height="3" fill="#000"/>
<rect x="727" y="200" width="1" height="3" fill="#000"/>
<rect x="727" y="206" width="1" height="3" fill="#000"/>
<rect x="727" y="212" width="1" height="3" fill="#000"/>
<rect x="727" y="218" width="1" height="3" fill="#000"/>
<rect x="727" y="224" width="1" height="3" fill="#000"/>
<rect x="727" y="230" width="1" height="3" fill="#000"/>
<rect x="727" y="236" width="1" height="3" fill="#000"/>
<rect x="727" y="242" width="1" height="3" fill="#000"/>
<rect x="727" y="248" width="1" height="3" fill="#000"/>
<rect x="727" y="254" width="1" height="3" fill="#000"/>
<rect x="727" y="260" width="1" height="3" fill="#000"/>
<rect x="727" y="266" width="1" height="3" fill="#000"/>
<rect x="727" y="272" width="1" height="3" fill="#000"/>
<rect x="727" y="278" width="1" height="3" fill="#000"/>
<rect x="727" y="284" width="1" height="3" fill="#000"/>
<rect x="727" y="290" width="1" height="3" fill="#000"/>
<rect x="727" y="296" width="1" height="3" fill="#000"/>
<rect x="727" y="302" width="1" height="3" fill="#000"/>
<rect x="727" y="308" width="1" height="3" fill="#000"/>
<rect x="727" y="314" width="1" height="3" fill="#000"/>
<rect x="727" y="320" width="1" height="3" fill="#000"/>
<rect x="727" y="326" width="1" height="3" fill="#000"/>
<rect x="727" y="332" width="1" height="3" fill="#000"/>
<rect x="727" y="338" width="1" height="3" fill="#000"/>
<rect x="727" y="344" width="1" height="3" fill="#000"/>
<rect x="727" y="350" width="1" height="3" fill="#000"/>
<rect x="727" y="356" width="1" height="3" fill="#000"/>
<rect x="727" y="362" width="1" height="3" fill="#000"/>
<rect x="727" y="368" width="1" height="3" fill="#000"/>
<rect x="727" y="374" width="1" height="3" fill="#000"/>
<rect x="727" y="380" width="1" height="3" fill="#000"/>
<rect x="727" y="386" width="1" height="3" fill="#000"/>
<rect x="727" y="392" width="1" height="3" fill="#000"/>
<rect x="727" y="398" width="1" height="3" fill="#000"/>
<rect x="727" y="404" width="1" height="3" fill="#000"/>
<rect x="727" y="410" width="1" height="3" fill="#000"/>
<rect x="727" y="416" width="1" height="3" fill="#000"/>
<rect x="727" y="422" width="1" height="3" fill="#000"/>
<rect x="727" y="428" width="1" height="3" fill="#000"/>
<rect x="727" y="434" width="1" height="3" fill="#000"/>
<rect x="727" y="440" width="1" height="3" fill="#000"/>
<rect x="727" y="446" width="1" height="3" fill="#000"/>
<rect x="727" y="452" width="1" height="3" fill="#000"/>
<rect x="727" y="458" width="1" height="3" fill="#000"/>
<rect x="727" y="464" width="1" height="3" fill="#000"/>
<rect x="727" y="470" width="1" height="3" fill="#000"/>
<rect x="727" y="476" width="1" height="3" fill="#000"/>
<rect x="727" y="482" width="1" height="3" fill="#000"/>
<rect x="727" y="488" width="1" height="3" fill="#000"/>
<rect x="727" y="494" width="1" height="3" fill="#000"/>
<rect x="727" y="500" width="1" height="3" fill="#000"/>
<rect x="727" y="506" width="1" height="3" fill="#000"/>
<rect x="727" y="512" width="1" height="3" fill="#000"/>
<rect x="727" y="518" width="1" height="3" fill="#000"/>
<rect x="727" y="524" width="1" height="3" fill="#000"/>
<rect x="727" y="530" width="1" height="3" fill="#000"/>
<rect x="727" y="536" width="1" height="3" fill="#000"/>
<rect x="727" y="542" width="1" height="3" fill="#000"/>
<rect x="727" y="548" width="1" height="3" fill="#000"/>
<rect x="727" y="554" width="1" height="3" fill="#000"/>
<rect x="727" y="560" width="1" height="3" fill="#000"/>
<rect x="727" y="566" width="1" height="3" fill="#000"/>
<rect x="727" y="572" width="1" height="3" fill="#000"/>
<rect x="727" y="578" width="1" height="3" fill="#000"/>
<rect x="3" y="214" width="757" height="1" fill="#ff0000"/>
<rect x="3" y="292" width="757" height="1" fill="#ff0000"/>
<rect x="3" y="318" width="757" height="1" fill="#ff0000"/>
<rect x="3" y="347" width="757" height="1" fill="#ff0000"/>
<rect x="3" y="421" width="757" height="1" fill="#ff0000"/>
<rect x="3" y="440" width="757" height="1" fill="#ff0000"/>
<rect x="3" y="370" width="757" height="1" fill="#778899"/>
<polyline points="167,3.5 172,4.5 198.25,16.2 211,22.5 219,25.5 223,27.3 228,29 235,31.5 242,33.5 251.5,36.5 260,40 267,42.8 275,45.5 283,47.8 291,50 300,52.4 308,55.6 314,57 324,60.4 332,64.4 342,69.6 348,73.6 354,77.6 362,81.6 370,86.4 376,90.4 384,94.4 392,98.4 400,103.6 410,108.4 420,113 428,117 436,120 443.6,123 452,126.4 458,128.4 470,134 486,140 492,141.6 500,144.5 509,147.6 518,151.4 535,157.1 547,161.2 554,162 562,164 570,166.5 578,169.6 590,174 604,179 610,180 631.6,186 646,192 657,195 666,198.5 677,199.5 686,202 694,205 702,208 710,210.2 719,213.5 727,215.5 736,218.6" fill="none" stroke="#ff0000" stroke-width="1"/>
<rect x="3" y="118" width="1" height="20" fill="#00bfff"/>
<rect x="2" y="118" width="3" height="18" fill="#00bfff"/>
<rect x="7" y="118" width="1" height="51" fill="#ff0000"/>
<rect x="6" y="120" width="3" height="47" fill="#ff0000"/>
<rect x="11" y="133" width="1" height="43" fill="#00bfff"/>
<rect x="10" y="135" width="3" height="30" fill="#00bfff"/>
<rect x="15" y="135" width="1" height="32" fill="#ff0000"/>
<rect x="14" y="137" width="3" height="26" fill="#ff0000"/>
<rect x="19" y="148" width="1" height="26" fill="#ff0000"/>
<rect x="18" y="164" width="3" height="5" fill="#ff0000"/>
<rect x="23" y="122" width="1" height="56" fill="#00bfff"/>
<rect x="22" y="153" width="3" height="14" fill="#00bfff"/>
<rect x="27" y="151" width="1" height="64" fill="#ff0000"/>
<rect x="26" y="151" width="3" height="58" fill="#ff0000"/>
<rect x="31" y="175" width="1" height="31" fill="#00bfff"/>
<rect x="30" y="197" width="3" height="9" fill="#00bfff"/>
<rect x="35" y="173" width="1" height="40" fill="#000"/>
<rect x="34" y="194" width="3" height="1" fill="#000"/>
<rect x="39" y="168" width="1" height="30" fill="#00bfff"/>
<rect x="38" y="168" width="3" height="30" fill="#00bfff"/>
<rect x="43" y="159" width="1" height="47" fill="#ff0000"/>
<rect x="42" y="166" width="3" height="32" fill="#ff0000"/>
<rect x="47" y="199" width="1" height="14" fill="#ff0000"/>
<rect x="46" y="199" width="3" height="14" fill="#ff0000"/>
<rect x="51" y="205" width="1" height="17" fill="#00bfff"/>
<rect x="50" y="212" width="3" height="3" fill="#00bfff"/>
<rect x="55" y="208" width="1" height="12" fill="#000"/>
<rect x="54" y="210" width="3" height="1" fill="#000"/>
<rect x="59" y="201" width="1" height="27" fill="#ff0000"/>
<rect x="58" y="208" width="3" height="20" fill="#ff0000"/>
<rect x="63" y="205" width="1" height="23" fill="#00bfff"/>
<rect x="62" y="210" width="3" height="16" fill="#00bfff"/>
<rect x="67" y="210" width="1" height="40" fill="#ff0000"/>
<rect x="66" y="212" width="3" height="21" fill="#ff0000"/>
<rect x="71" y="216" width="1" height="30" fill="#00bfff"/>
<rect x="70" y="221" width="3" height="14" fill="#00bfff"/>
<rect x="75" y="216" width="1" height="28" fill="#ff0000"/>
<rect x="74" y="223" width="3" height="21" fill="#ff0000"/>
<rect x="79" y="214" width="1" height="34" fill="#00bfff"/>
<rect x="78" y="214" width="3" height="32" fill="#00bfff"/>
<rect x="83" y="212" width="1" height="52" fill="#ff0000"/>
<rect x="82" y="216" width="3" height="39" fill="#ff0000"/>
<rect x="87" y="230" width="1" height="31" fill="#00bfff"/>
<rect x="86" y="230" width="3" height="27" fill="#00bfff"/>
<rect x="91" y="194" width="1" height="56" fill="#00bfff"/>
<rect x="90" y="205" width="3" height="28" fill="#00bfff"/>
<rect x="95" y="199" width="1" height="43" fill="#ff0000"/>
<rect x="94" y="203" width="3" height="30" fill="#ff0000"/>
<rect x="99" y="225" width="1" height="28" fill="#00bfff"/>
<rect x="98" y="232" width="3" height="3" fill="#00bfff"/>
<rect x="103" y="208" width="1" height="29" fill="#00bfff"/>
<rect x="102" y="223" width="3" height="12" fill="#00bfff"/>
<rect x="107" y="194" width="1" height="30" fill="#00bfff"/>
<rect x="106" y="197" width="3" height="25" fill="#00bfff"/>
<rect x="111" y="175" width="1" height="27" fill="#00bfff"/>
<rect x="110" y="181" width="3" height="19" fill="#00bfff"/>
<rect x="115" y="157" width="1" height="30" fill="#00bfff"/>
<rect x="114" y="164" width="3" height="21" fill="#00bfff"/>
<rect x="119" y="137" width="1" height="39" fill="#00bfff"/>
<rect x="118" y="140" width="3" height="27" fill="#00bfff"/>
<rect x="123" y="140" width="1" height="36" fill="#ff0000"/>
<rect x="122" y="142" width="3" height="25" fill="#ff0000"/>
<rect x="127" y="168" width="1" height="27" fill="#ff0000"/>
<rect x="126" y="168" width="3" height="6" fill="#ff0000"/>
<rect x="131" y="164" width="1" height="21" fill="#00bfff"/>
<rect x="130" y="164" width="3" height="12" fill="#00bfff"/>
<rect x="135" y="144" width="1" height="23" fill="#00bfff"/>
<rect x="134" y="146" width="3" height="21" fill="#00bfff"/>
<rect x="139" y="142" width="1" height="18" fill="#ff0000"/>
<rect x="138" y="144" width="3" height="16" fill="#ff0000"/>
<rect x="143" y="146" width="1" height="19" fill="#00bfff"/>
<rect x="142" y="153" width="3" height="5" fill="#00bfff"/>
<rect x="147" y="144" width="1" height="14" fill="#00bfff"/>
<rect x="146" y="146" width="3" height="10" fill="#00bfff"/>
<rect x="151" y="135" width="1" height="17" fill="#00bfff"/>
<rect x="150" y="144" width="3" height="5" fill="#00bfff"/>
<rect x="155" y="140" width="1" height="16" fill="#00bfff"/>
<rect x="154" y="144" width="3" height="3" fill="#00bfff"/>
<rect x="159" y="140" width="1" height="12" fill="#ff0000"/>
<rect x="158" y="142" width="3" height="7" fill="#ff0000"/>
<rect x="163" y="131" width="1" height="29" fill="#00bfff"/>
<rect x="162" y="137" width="3" height="15" fill="#00bfff"/>
<rect x="167" y="96" width="1" height="42" fill="#00bfff"/>
<rect x="166" y="120" width="3" height="16" fill="#00bfff"/>
<rect x="171" y="109" width="1" height="25" fill="#ff0000"/>
<rect x="170" y="118" width="3" height="7" fill="#ff0000"/>
<rect x="175" y="122" width="1" height="23" fill="#ff0000"/>
<rect x="174" y="126" width="3" height="19" fill="#ff0000"/>
<rect x="179" y="140" width="1" height="40" fill="#ff0000"/>
<rect x="178" y="142" width="3" height="32" fill="#ff0000"/>
<rect x="183" y="157" width="1" height="23" fill="#000"/>
<rect x="182" y="170" width="3" height="1" fill="#000"/>
<rect x="187" y="168" width="1" height="30" fill="#ff0000"/>
<rect x="186" y="168" width="3" height="17" fill="#ff0000"/>
<rect x="191" y="159" width="1" height="32" fill="#00bfff"/>
<rect x="190" y="164" width="3" height="23" fill="#00bfff"/>
<rect x="195" y="166" width="1" height="32" fill="#ff0000"/>
<rect x="194" y="166" width="3" height="32" fill="#ff0000"/>
<rect x="199" y="188" width="1" height="29" fill="#ff0000"/>
<rect x="198" y="194" width="3" height="8" fill="#ff0000"/>
<rect x="203" y="157" width="1" height="43" fill="#00bfff"/>
<rect x="202" y="186" width="3" height="14" fill="#00bfff"/>
<rect x="207" y="173" width="1" height="20" fill="#00bfff"/>
<rect x="206" y="177" width="3" height="12" fill="#00bfff"/>
<rect x="211" y="164" width="1" height="25" fill="#00bfff"/>
<rect x="210" y="173" width="3" height="7" fill="#00bfff"/>
<rect x="215" y="166" width="1" height="25" fill="#ff0000"/>
<rect x="214" y="175" width="3" height="16" fill="#ff0000"/>
<rect x="219" y="170" width="1" height="36" fill="#ff0000"/>
<rect x="218" y="192" width="3" height="8" fill="#ff0000"/>
<rect x="223" y="74" width="1" height="137" fill="#00bfff"/>
<rect x="222" y="104" width="3" height="94" fill="#00bfff"/>
<rect x="227" y="30" width="1" height="75" fill="#00bfff"/>
<rect x="226" y="78" width="3" height="25" fill="#00bfff"/>
<rect x="231" y="65" width="1" height="25" fill="#ff0000"/>
<rect x="230" y="76" width="3" height="3" fill="#ff0000"/>
<rect x="235" y="80" width="1" height="28" fill="#ff0000"/>
<rect x="234" y="80" width="3" height="21" fill="#ff0000"/>
<rect x="239" y="89" width="1" height="16" fill="#00bfff"/>
<rect x="238" y="98" width="3" height="5" fill="#00bfff"/>
<rect x="243" y="89" width="1" height="16" fill="#00bfff"/>
<rect x="242" y="91" width="3" height="10" fill="#00bfff"/>
<rect x="247" y="87" width="1" height="25" fill="#ff0000"/>
<rect x="246" y="94" width="3" height="16" fill="#ff0000"/>
<rect x="251" y="109" width="1" height="14" fill="#ff0000"/>
<rect x="250" y="111" width="3" height="5" fill="#ff0000"/>
<rect x="255" y="104" width="1" height="15" fill="#000"/>
<rect x="254" y="118" width="3" height="1" fill="#000"/>
<rect x="259" y="113" width="1" height="21" fill="#ff0000"/>
<rect x="258" y="115" width="3" height="17" fill="#ff0000"/>
<rect x="263" y="129" width="1" height="23" fill="#ff0000"/>
<rect x="262" y="129" width="3" height="16" fill="#ff0000"/>
<rect x="267" y="131" width="1" height="27" fill="#ff0000"/>
<rect x="266" y="146" width="3" height="6" fill="#ff0000"/>
<rect x="271" y="137" width="1" height="15" fill="#00bfff"/>
<rect x="270" y="137" width="3" height="12" fill="#00bfff"/>
<rect x="275" y="124" width="1" height="14" fill="#00bfff"/>
<rect x="274" y="126" width="3" height="10" fill="#00bfff"/>
<rect x="279" y="122" width="1" height="27" fill="#ff0000"/>
<rect x="278" y="129" width="3" height="3" fill="#ff0000"/>
<rect x="283" y="98" width="1" height="43" fill="#00bfff"/>
<rect x="282" y="115" width="3" height="15" fill="#00bfff"/>
<rect x="287" y="113" width="1" height="23" fill="#ff0000"/>
<rect x="286" y="113" width="3" height="19" fill="#ff0000"/>
<rect x="291" y="120" width="1" height="23" fill="#00bfff"/>
<rect x="290" y="129" width="3" height="5" fill="#00bfff"/>
<rect x="295" y="122" width="1" height="27" fill="#ff0000"/>
<rect x="294" y="131" width="3" height="16" fill="#ff0000"/>
<rect x="299" y="137" width="1" height="21" fill="#ff0000"/>
<rect x="298" y="144" width="3" height="14" fill="#ff0000"/>
<rect x="303" y="151" width="1" height="9" fill="#ff0000"/>
<rect x="302" y="155" width="3" height="5" fill="#ff0000"/>
<rect x="307" y="104" width="1" height="65" fill="#00bfff"/>
<rect x="306" y="140" width="3" height="18" fill="#00bfff"/>
<rect x="311" y="135" width="1" height="28" fill="#ff0000"/>
<rect x="310" y="137" width="3" height="19" fill="#ff0000"/>
<rect x="315" y="144" width="1" height="45" fill="#ff0000"/>
<rect x="314" y="153" width="3" height="34" fill="#ff0000"/>
<rect x="319" y="184" width="1" height="47" fill="#ff0000"/>
<rect x="318" y="184" width="3" height="22" fill="#ff0000"/>
<rect x="323" y="192" width="1" height="32" fill="#00bfff"/>
<rect x="322" y="201" width="3" height="8" fill="#00bfff"/>
<rect x="327" y="188" width="1" height="16" fill="#00bfff"/>
<rect x="326" y="188" width="3" height="12" fill="#00bfff"/>
<rect x="331" y="135" width="1" height="179" fill="#ff0000"/>
<rect x="330" y="192" width="3" height="80" fill="#ff0000"/>
<rect x="335" y="254" width="1" height="111" fill="#ff0000"/>
<rect x="334" y="274" width="3" height="45" fill="#ff0000"/>
<rect x="339" y="309" width="1" height="27" fill="#000"/>
<rect x="338" y="320" width="3" height="1" fill="#000"/>
<rect x="343" y="313" width="1" height="34" fill="#ff0000"/>
<rect x="342" y="322" width="3" height="5" fill="#ff0000"/>
<rect x="347" y="324" width="1" height="38" fill="#ff0000"/>
<rect x="346" y="328" width="3" height="23" fill="#ff0000"/>
<rect x="351" y="313" width="1" height="38" fill="#00bfff"/>
<rect x="350" y="320" width="3" height="29" fill="#00bfff"/>
<rect x="355" y="295" width="1" height="28" fill="#00bfff"/>
<rect x="354" y="304" width="3" height="19" fill="#00bfff"/>
<rect x="359" y="287" width="1" height="29" fill="#00bfff"/>
<rect x="358" y="287" width="3" height="16" fill="#00bfff"/>
<rect x="363" y="278" width="1" height="21" fill="#00bfff"/>
<rect x="362" y="287" width="3" height="3" fill="#00bfff"/>
<rect x="367" y="278" width="1" height="21" fill="#ff0000"/>
<rect x="366" y="284" width="3" height="10" fill="#ff0000"/>
<rect x="371" y="284" width="1" height="23" fill="#ff0000"/>
<rect x="370" y="295" width="3" height="4" fill="#ff0000"/>
<rect x="375" y="282" width="1" height="28" fill="#00bfff"/>
<rect x="374" y="282" width="3" height="19" fill="#00bfff"/>
<rect x="379" y="260" width="1" height="28" fill="#000"/>
<rect x="378" y="284" width="3" height="1" fill="#000"/>
<rect x="383" y="269" width="1" height="56" fill="#00bfff"/>
<rect x="382" y="271" width="3" height="17" fill="#00bfff"/>
<rect x="387" y="238" width="1" height="45" fill="#00bfff"/>
<rect x="386" y="243" width="3" height="32" fill="#00bfff"/>
<rect x="391" y="241" width="1" height="29" fill="#ff0000"/>
<rect x="390" y="241" width="3" height="16" fill="#ff0000"/>
<rect x="395" y="245" width="1" height="12" fill="#00bfff"/>
<rect x="394" y="249" width="3" height="6" fill="#00bfff"/>
<rect x="399" y="238" width="1" height="52" fill="#ff0000"/>
<rect x="398" y="247" width="3" height="41" fill="#ff0000"/>
<rect x="403" y="254" width="1" height="75" fill="#00bfff"/>
<rect x="402" y="256" width="3" height="34" fill="#00bfff"/>
<rect x="407" y="241" width="1" height="40" fill="#ff0000"/>
<rect x="406" y="258" width="3" height="8" fill="#ff0000"/>
<rect x="411" y="192" width="1" height="85" fill="#00bfff"/>
<rect x="410" y="214" width="3" height="54" fill="#00bfff"/>
<rect x="415" y="205" width="1" height="34" fill="#ff0000"/>
<rect x="414" y="212" width="3" height="10" fill="#ff0000"/>
<rect x="419" y="208" width="1" height="23" fill="#00bfff"/>
<rect x="418" y="214" width="3" height="10" fill="#00bfff"/>
<rect x="423" y="212" width="1" height="32" fill="#ff0000"/>
<rect x="422" y="212" width="3" height="25" fill="#ff0000"/>
<rect x="427" y="225" width="1" height="17" fill="#00bfff"/>
<rect x="426" y="230" width="3" height="9" fill="#00bfff"/>
<rect x="431" y="210" width="1" height="23" fill="#00bfff"/>
<rect x="430" y="216" width="3" height="17" fill="#00bfff"/>
<rect x="435" y="197" width="1" height="25" fill="#00bfff"/>
<rect x="434" y="199" width="3" height="21" fill="#00bfff"/>
<rect x="439" y="142" width="1" height="60" fill="#00bfff"/>
<rect x="438" y="175" width="3" height="27" fill="#00bfff"/>
<rect x="443" y="173" width="1" height="29" fill="#ff0000"/>
<rect x="442" y="177" width="3" height="16" fill="#ff0000"/>
<rect x="447" y="194" width="1" height="19" fill="#ff0000"/>
<rect x="446" y="194" width="3" height="10" fill="#ff0000"/>
<rect x="451" y="188" width="1" height="43" fill="#ff0000"/>
<rect x="450" y="205" width="3" height="6" fill="#ff0000"/>
<rect x="455" y="197" width="1" height="80" fill="#ff0000"/>
<rect x="454" y="208" width="3" height="34" fill="#ff0000"/>
<rect x="459" y="238" width="1" height="39" fill="#ff0000"/>
<rect x="458" y="243" width="3" height="7" fill="#ff0000"/>
<rect x="463" y="236" width="1" height="23" fill="#00bfff"/>
<rect x="462" y="245" width="3" height="3" fill="#00bfff"/>
<rect x="467" y="230" width="1" height="16" fill="#00bfff"/>
<rect x="466" y="236" width="3" height="8" fill="#00bfff"/>
<rect x="471" y="212" width="1" height="34" fill="#00bfff"/>
<rect x="470" y="214" width="3" height="25" fill="#00bfff"/>
<rect x="475" y="214" width="1" height="32" fill="#ff0000"/>
<rect x="474" y="216" width="3" height="23" fill="#ff0000"/>
<rect x="479" y="208" width="1" height="36" fill="#000"/>
<rect x="478" y="236" width="3" height="1" fill="#000"/>
<rect x="483" y="234" width="1" height="38" fill="#ff0000"/>
<rect x="482" y="238" width="3" height="4" fill="#ff0000"/>
<rect x="487" y="221" width="1" height="34" fill="#00bfff"/>
<rect x="486" y="223" width="3" height="21" fill="#00bfff"/>
<rect x="491" y="203" width="1" height="28" fill="#00bfff"/>
<rect x="490" y="216" width="3" height="10" fill="#00bfff"/>
<rect x="495" y="210" width="1" height="25" fill="#ff0000"/>
<rect x="494" y="215" width="3" height="9" fill="#ff0000"/>
<rect x="499" y="155" width="1" height="80" fill="#00bfff"/>
<rect x="498" y="175" width="3" height="51" fill="#00bfff"/>
<rect x="503" y="175" width="1" height="62" fill="#ff0000"/>
<rect x="502" y="177" width="3" height="49" fill="#ff0000"/>
<rect x="507" y="215" width="1" height="68" fill="#ff0000"/>
<rect x="506" y="227" width="3" height="45" fill="#ff0000"/>
<rect x="511" y="247" width="1" height="32" fill="#ff0000"/>
<rect x="510" y="269" width="3" height="6" fill="#ff0000"/>
<rect x="515" y="260" width="1" height="32" fill="#00bfff"/>
<rect x="514" y="265" width="3" height="7" fill="#00bfff"/>
<rect x="519" y="241" width="1" height="27" fill="#00bfff"/>
<rect x="518" y="249" width="3" height="19" fill="#00bfff"/>
<rect x="523" y="238" width="1" height="17" fill="#00bfff"/>
<rect x="522" y="243" width="3" height="10" fill="#00bfff"/>
<rect x="527" y="236" width="1" height="21" fill="#ff0000"/>
<rect x="526" y="241" width="3" height="16" fill="#ff0000"/>
<rect x="531" y="252" width="1" height="20" fill="#ff0000"/>
<rect x="530" y="254" width="3" height="8" fill="#ff0000"/>
<rect x="535" y="199" width="1" height="40" fill="#00bfff"/>
<rect x="534" y="214" width="3" height="25" fill="#00bfff"/>
<rect x="539" y="201" width="1" height="19" fill="#000"/>
<rect x="538" y="216" width="3" height="1" fill="#000"/>
<rect x="543" y="201" width="1" height="25" fill="#00bfff"/>
<rect x="542" y="208" width="3" height="12" fill="#00bfff"/>
<rect x="547" y="205" width="1" height="32" fill="#ff0000"/>
<rect x="546" y="205" width="3" height="10" fill="#ff0000"/>
<rect x="551" y="179" width="1" height="38" fill="#00bfff"/>
<rect x="550" y="181" width="3" height="32" fill="#00bfff"/>
<rect x="555" y="162" width="1" height="25" fill="#ff0000"/>
<rect x="554" y="179" width="3" height="8" fill="#ff0000"/>
<rect x="559" y="177" width="1" height="18" fill="#ff0000"/>
<rect x="558" y="184" width="3" height="7" fill="#ff0000"/>
<rect x="563" y="184" width="1" height="42" fill="#ff0000"/>
<rect x="562" y="188" width="3" height="36" fill="#ff0000"/>
<rect x="567" y="221" width="1" height="36" fill="#ff0000"/>
<rect x="566" y="225" width="3" height="12" fill="#ff0000"/>
<rect x="571" y="223" width="1" height="34" fill="#ff0000"/>
<rect x="570" y="234" width="3" height="16" fill="#ff0000"/>
<rect x="575" y="245" width="1" height="65" fill="#ff0000"/>
<rect x="574" y="247" width="3" height="60" fill="#ff0000"/>
<rect x="579" y="258" width="1" height="54" fill="#00bfff"/>
<rect x="578" y="263" width="3" height="47" fill="#00bfff"/>
<rect x="583" y="256" width="1" height="21" fill="#000"/>
<rect x="582" y="265" width="3" height="1" fill="#000"/>
<rect x="587" y="263" width="1" height="31" fill="#ff0000"/>
<rect x="586" y="267" width="3" height="16" fill="#ff0000"/>
<rect x="591" y="269" width="1" height="21" fill="#ff0000"/>
<rect x="590" y="284" width="3" height="4" fill="#ff0000"/>
<rect x="595" y="284" width="1" height="30" fill="#00bfff"/>
<rect x="594" y="287" width="3" height="3" fill="#00bfff"/>
<rect x="599" y="265" width="1" height="54" fill="#ff0000"/>
<rect x="598" y="284" width="3" height="10" fill="#ff0000"/>
<rect x="603" y="258" width="1" height="45" fill="#00bfff"/>
<rect x="602" y="265" width="3" height="27" fill="#00bfff"/>
<rect x="607" y="260" width="1" height="28" fill="#ff0000"/>
<rect x="606" y="263" width="3" height="18" fill="#ff0000"/>
<rect x="611" y="274" width="1" height="14" fill="#ff0000"/>
<rect x="610" y="278" width="3" height="5" fill="#ff0000"/>
<rect x="615" y="265" width="1" height="23" fill="#00bfff"/>
<rect x="614" y="271" width="3" height="10" fill="#00bfff"/>
<rect x="619" y="245" width="1" height="25" fill="#00bfff"/>
<rect x="618" y="251" width="3" height="19" fill="#00bfff"/>
<rect x="623" y="249" width="1" height="23" fill="#ff0000"/>
<rect x="622" y="253" width="3" height="17" fill="#ff0000"/>
<rect x="627" y="269" width="1" height="32" fill="#ff0000"/>
<rect x="626" y="271" width="3" height="17" fill="#ff0000"/>
<rect x="631" y="282" width="1" height="17" fill="#00bfff"/>
<rect x="630" y="287" width="3" height="3" fill="#00bfff"/>
<rect x="635" y="276" width="1" height="16" fill="#000"/>
<rect x="634" y="289" width="3" height="1" fill="#000"/>
<rect x="639" y="289" width="1" height="21" fill="#ff0000"/>
<rect x="638" y="291" width="3" height="10" fill="#ff0000"/>
<rect x="643" y="254" width="1" height="47" fill="#00bfff"/>
<rect x="642" y="269" width="3" height="30" fill="#00bfff"/>
<rect x="647" y="269" width="1" height="41" fill="#ff0000"/>
<rect x="646" y="271" width="3" height="17" fill="#ff0000"/>
<rect x="651" y="280" width="1" height="14" fill="#ff0000"/>
<rect x="650" y="289" width="3" height="3" fill="#ff0000"/>
<rect x="655" y="247" width="1" height="45" fill="#00bfff"/>
<rect x="654" y="256" width="3" height="34" fill="#00bfff"/>
<rect x="659" y="236" width="1" height="25" fill="#00bfff"/>
<rect x="658" y="249" width="3" height="10" fill="#00bfff"/>
<rect x="663" y="247" width="1" height="32" fill="#ff0000"/>
<rect x="662" y="252" width="3" height="27" fill="#ff0000"/>
<rect x="667" y="232" width="1" height="47" fill="#00bfff"/>
<rect x="666" y="267" width="3" height="10" fill="#00bfff"/>
<rect x="671" y="238" width="1" height="45" fill="#00bfff"/>
<rect x="670" y="249" width="3" height="21" fill="#00bfff"/>
<rect x="675" y="214" width="1" height="39" fill="#00bfff"/>
<rect x="674" y="234" width="3" height="19" fill="#00bfff"/>
<rect x="679" y="232" width="1" height="40" fill="#ff0000"/>
<rect x="678" y="236" width="3" height="28" fill="#ff0000"/>
<rect x="683" y="252" width="1" height="27" fill="#00bfff"/>
<rect x="682" y="258" width="3" height="8" fill="#00bfff"/>
<rect x="687" y="256" width="1" height="82" fill="#ff0000"/>
<rect x="686" y="256" width="3" height="69" fill="#ff0000"/>
<rect x="691" y="311" width="1" height="75" fill="#ff0000"/>
<rect x="690" y="326" width="3" height="58" fill="#ff0000"/>
<rect x="695" y="377" width="1" height="40" fill="#ff0000"/>
<rect x="694" y="385" width="3" height="28" fill="#ff0000"/>
<rect x="699" y="381" width="1" height="49" fill="#00bfff"/>
<rect x="698" y="394" width="3" height="21" fill="#00bfff"/>
<rect x="703" y="390" width="1" height="40" fill="#ff0000"/>
<rect x="702" y="392" width="3" height="19" fill="#ff0000"/>
<rect x="707" y="388" width="1" height="25" fill="#00bfff"/>
<rect x="706" y="399" width="3" height="14" fill="#00bfff"/>
<rect x="711" y="388" width="1" height="16" fill="#00bfff"/>
<rect x="710" y="390" width="3" height="7" fill="#00bfff"/>
<rect x="715" y="377" width="1" height="23" fill="#00bfff"/>
<rect x="714" y="383" width="3" height="10" fill="#00bfff"/>
<rect x="719" y="374" width="1" height="67" fill="#ff0000"/>
<rect x="718" y="381" width="3" height="38" fill="#ff0000"/>
<rect x="723" y="385" width="1" height="48" fill="#00bfff"/>
<rect x="722" y="388" width="3" height="34" fill="#00bfff"/>
<rect x="727" y="352" width="1" height="39" fill="#00bfff"/>
<rect x="726" y="377" width="3" height="14" fill="#00bfff"/>
<rect x="731" y="348" width="1" height="32" fill="#00bfff"/>
<rect x="730" y="364" width="3" height="16" fill="#00bfff"/>
<rect x="735" y="364" width="1" height="9" fill="#ff0000"/>
<rect x="734" y="366" width="3" height="5" fill="#ff0000"/>
<rect x="16" y="5" width="183" height="11" fill="#fff"/>
<rect x="6" y="9" width="7" height="1" fill="#000"/>
<rect x="7" y="10" width="5" height="1" fill="#000"/>
<rect x="8" y="11" width="3" height="1" fill="#000"/>
<rect x="9" y="12" width="1" height="1" fill="#000"/>
<text x="18.3" y="14" font-size="9.7" fill="#000" stroke="#000" stroke-width="0.1" textLength="53.5" lengthAdjust="spacingAndGlyphs">NZDUSD,H1</text>
<text x="77.5" y="14" font-size="9.7" fill="#000" stroke="#000" stroke-width="0.1" textLength="28" lengthAdjust="spacingAndGlyphs">0.8075</text>
<text x="108.7" y="14" font-size="9.7" fill="#000" stroke="#000" stroke-width="0.1" textLength="28" lengthAdjust="spacingAndGlyphs">0.8076</text>
<text x="139.9" y="14" font-size="9.7" fill="#000" stroke="#000" stroke-width="0.1" textLength="28" lengthAdjust="spacingAndGlyphs">0.8072</text>
<text x="171.1" y="14" font-size="9.7" fill="#000" stroke="#000" stroke-width="0.1" textLength="28" lengthAdjust="spacingAndGlyphs">0.8073</text>
<rect x="761" y="25" width="2" height="1" fill="#000"/>
<text x="765.5" y="28" font-size="9.7" fill="#000" stroke="#000" stroke-width="0.1" textLength="28.5" lengthAdjust="spacingAndGlyphs">0.8230</text>
<rect x="761" y="58" width="2" height="1" fill="#000"/>
<text x="765.5" y="61" font-size="9.7" fill="#000" stroke="#000" stroke-width="0.1" textLength="28.5" lengthAdjust="spacingAndGlyphs">0.8215</text>
<rect x="761" y="91" width="2" height="1" fill="#000"/>
<text x="765.5" y="94" font-size="9.7" fill="#000" stroke="#000" stroke-width="0.1" textLength="28.5" lengthAdjust="spacingAndGlyphs">0.8200</text>
<rect x="761" y="124" width="2" height="1" fill="#000"/>
<text x="765.5" y="127" font-size="9.7" fill="#000" stroke="#000" stroke-width="0.1" textLength="28.5" lengthAdjust="spacingAndGlyphs">0.8185</text>
<rect x="761" y="157" width="2" height="1" fill="#000"/>
<text x="765.5" y="160" font-size="9.7" fill="#000" stroke="#000" stroke-width="0.1" textLength="28.5" lengthAdjust="spacingAndGlyphs">0.8170</text>
<rect x="761" y="190" width="2" height="1" fill="#000"/>
<text x="765.5" y="193" font-size="9.7" fill="#000" stroke="#000" stroke-width="0.1" textLength="28.5" lengthAdjust="spacingAndGlyphs">0.8155</text>
<rect x="761" y="223" width="2" height="1" fill="#000"/>
<text x="765.5" y="226" font-size="9.7" fill="#000" stroke="#000" stroke-width="0.1" textLength="28.5" lengthAdjust="spacingAndGlyphs">0.8140</text>
<rect x="761" y="256" width="2" height="1" fill="#000"/>
<text x="765.5" y="259" font-size="9.7" fill="#000" stroke="#000" stroke-width="0.1" textLength="28.5" lengthAdjust="spacingAndGlyphs">0.8125</text>
<rect x="761" y="289" width="2" height="1" fill="#000"/>
<text x="765.5" y="292" font-size="9.7" fill="#000" stroke="#000" stroke-width="0.1" textLength="28.5" lengthAdjust="spacingAndGlyphs">0.8110</text>
<rect x="761" y="322" width="2" height="1" fill="#000"/>
<text x="765.5" y="325" font-size="9.7" fill="#000" stroke="#000" stroke-width="0.1" textLength="28.5" lengthAdjust="spacingAndGlyphs">0.8095</text>
<rect x="761" y="355" width="2" height="1" fill="#000"/>
<text x="765.5" y="358" font-size="9.7" fill="#000" stroke="#000" stroke-width="0.1" textLength="28.5" lengthAdjust="spacingAndGlyphs">0.8080</text>
<rect x="761" y="388" width="2" height="1" fill="#000"/>
<text x="765.5" y="391" font-size="9.7" fill="#000" stroke="#000" stroke-width="0.1" textLength="28.5" lengthAdjust="spacingAndGlyphs">0.8065</text>
<rect x="761" y="421" width="2" height="1" fill="#000"/>
<text x="765.5" y="424" font-size="9.7" fill="#000" stroke="#000" stroke-width="0.1" textLength="28.5" lengthAdjust="spacingAndGlyphs">0.8050</text>
<rect x="761" y="454" width="2" height="1" fill="#000"/>
<text x="765.5" y="457" font-size="9.7" fill="#000" stroke="#000" stroke-width="0.1" textLength="28.5" lengthAdjust="spacingAndGlyphs">0.8035</text>
<rect x="762" y="208" width="36" height="11" fill="#ff0000"/>
<text x="765.5" y="217" font-size="9.7" fill="#fff" stroke="#fff" stroke-width="0.1" textLength="28.5" lengthAdjust="spacingAndGlyphs">0.8144</text>
<rect x="762" y="286" width="36" height="11" fill="#ff0000"/>
<text x="765.5" y="295" font-size="9.7" fill="#fff" stroke="#fff" stroke-width="0.1" textLength="28.5" lengthAdjust="spacingAndGlyphs">0.8109</text>
<rect x="762" y="312" width="36" height="11" fill="#ff0000"/>
<text x="765.5" y="321" font-size="9.7" fill="#fff" stroke="#fff" stroke-width="0.1" textLength="28.5" lengthAdjust="spacingAndGlyphs">0.8097</text>
<rect x="762" y="341" width="36" height="11" fill="#ff0000"/>
<text x="765.5" y="350" font-size="9.7" fill="#fff" stroke="#fff" stroke-width="0.1" textLength="28.5" lengthAdjust="spacingAndGlyphs">0.8083</text>
<rect x="762" y="415" width="36" height="11" fill="#ff0000"/>
<text x="765.5" y="424" font-size="9.7" fill="#fff" stroke="#fff" stroke-width="0.1" textLength="28.5" lengthAdjust="spacingAndGlyphs">0.8050</text>
<rect x="762" y="434" width="36" height="11" fill="#ff0000"/>
<text x="765.5" y="443" font-size="9.7" fill="#fff" stroke="#fff" stroke-width="0.1" textLength="28.5" lengthAdjust="spacingAndGlyphs">0.8041</text>
<rect x="762" y="364" width="36" height="11" fill="#000"/>
<text x="765.5" y="373" font-size="9.7" fill="#fff" stroke="#fff" stroke-width="0.1" textLength="28.5" lengthAdjust="spacingAndGlyphs">0.8073</text>
<rect x="2" y="503" width="3" height="18" fill="#646464"/>
<rect x="6" y="503" width="3" height="20" fill="#646464"/>
<rect x="10" y="503" width="3" height="17" fill="#646464"/>
<rect x="14" y="503" width="3" height="18" fill="#646464"/>
<rect x="18" y="503" width="3" height="20" fill="#646464"/>
<rect x="22" y="503" width="3" height="19" fill="#646464"/>
<rect x="26" y="503" width="3" height="24" fill="#646464"/>
<rect x="30" y="503" width="3" height="27" fill="#646464"/>
<rect x="34" y="503" width="3" height="28" fill="#646464"/>
<rect x="38" y="503" width="3" height="26" fill="#646464"/>
<rect x="42" y="503" width="3" height="28" fill="#646464"/>
<rect x="46" y="503" width="3" height="30" fill="#646464"/>
<rect x="50" y="503" width="3" height="32" fill="#646464"/>
<rect x="54" y="503" width="3" height="33" fill="#646464"/>
<rect x="58" y="503" width="3" height="35" fill="#646464"/>
<rect x="62" y="503" width="3" height="34" fill="#646464"/>
<rect x="66" y="503" width="3" height="36" fill="#646464"/>
<rect x="70" y="503" width="3" height="36" fill="#646464"/>
<rect x="74" y="503" width="3" height="37" fill="#646464"/>
<rect x="78" y="503" width="3" height="35" fill="#646464"/>
<rect x="82" y="503" width="3" height="38" fill="#646464"/>
<rect x="86" y="503" width="3" height="36" fill="#646464"/>
<rect x="90" y="503" width="3" height="32" fill="#646464"/>
<rect x="94" y="503" width="3" height="31" fill="#646464"/>
<rect x="98" y="503" width="3" height="31" fill="#646464"/>
<rect x="102" y="503" width="3" height="29" fill="#646464"/>
<rect x="106" y="503" width="3" height="24" fill="#646464"/>
<rect x="110" y="503" width="3" height="18" fill="#646464"/>
<rect x="114" y="503" width="3" height="11" fill="#646464"/>
<rect x="118" y="503" width="3" height="2" fill="#646464"/>
<rect x="122" y="501" width="3" height="2" fill="#646464"/>
<rect x="126" y="499" width="3" height="4" fill="#646464"/>
<rect x="130" y="496" width="3" height="7" fill="#646464"/>
<rect x="134" y="492" width="3" height="11" fill="#646464"/>
<rect x="138" y="491" width="3" height="12" fill="#646464"/>
<rect x="142" y="489" width="3" height="14" fill="#646464"/>
<rect x="146" y="487" width="3" height="16" fill="#646464"/>
<rect x="150" y="485" width="3" height="18" fill="#646464"/>
<rect x="154" y="484" width="3" height="19" fill="#646464"/>
<rect x="158" y="484" width="3" height="19" fill="#646464"/>
<rect x="162" y="483" width="3" height="20" fill="#646464"/>
<rect x="166" y="480" width="3" height="23" fill="#646464"/>
<rect x="170" y="479" width="3" height="24" fill="#646464"/>
<rect x="174" y="480" width="3" height="23" fill="#646464"/>
<rect x="178" y="485" width="3" height="18" fill="#646464"/>
<rect x="182" y="489" width="3" height="14" fill="#646464"/>
<rect x="186" y="494" width="3" height="9" fill="#646464"/>
<rect x="190" y="495" width="3" height="8" fill="#646464"/>
<rect x="194" y="500" width="3" height="3" fill="#646464"/>
<rect x="198" y="503" width="3" height="3" fill="#646464"/>
<rect x="202" y="503" width="3" height="4" fill="#646464"/>
<rect x="206" y="503" width="3" height="5" fill="#646464"/>
<rect x="210" y="503" width="3" height="4" fill="#646464"/>
<rect x="214" y="503" width="3" height="6" fill="#646464"/>
<rect x="218" y="503" width="3" height="8" fill="#646464"/>
<rect x="222" y="501" width="3" height="2" fill="#646464"/>
<rect x="226" y="490" width="3" height="13" fill="#646464"/>
<rect x="230" y="482" width="3" height="21" fill="#646464"/>
<rect x="234" y="479" width="3" height="24" fill="#646464"/>
<rect x="238" y="476" width="3" height="27" fill="#646464"/>
<rect x="242" y="474" width="3" height="29" fill="#646464"/>
<rect x="246" y="474" width="3" height="29" fill="#646464"/>
<rect x="250" y="475" width="3" height="28" fill="#646464"/>
<rect x="254" y="477" width="3" height="26" fill="#646464"/>
<rect x="258" y="480" width="3" height="23" fill="#646464"/>
<rect x="262" y="485" width="3" height="18" fill="#646464"/>
<rect x="266" y="489" width="3" height="14" fill="#646464"/>
<rect x="270" y="491" width="3" height="12" fill="#646464"/>
<rect x="274" y="491" width="3" height="12" fill="#646464"/>
<rect x="278" y="492" width="3" height="11" fill="#646464"/>
<rect x="282" y="491" width="3" height="12" fill="#646464"/>
<rect x="286" y="493" width="3" height="10" fill="#646464"/>
<rect x="290" y="493" width="3" height="10" fill="#646464"/>
<rect x="294" y="496" width="3" height="7" fill="#646464"/>
<rect x="298" y="500" width="3" height="3" fill="#646464"/>
<rect x="302" y="503" width="3" height="1" fill="#646464"/>
<rect x="306" y="503" width="3" height="1" fill="#646464"/>
<rect x="310" y="503" width="3" height="3" fill="#646464"/>
<rect x="314" y="503" width="3" height="8" fill="#646464"/>
<rect x="318" y="503" width="3" height="14" fill="#646464"/>
<rect x="322" y="503" width="3" height="18" fill="#646464"/>
<rect x="326" y="503" width="3" height="20" fill="#646464"/>
<rect x="330" y="503" width="3" height="31" fill="#646464"/>
<rect x="334" y="503" width="3" height="45" fill="#646464"/>
<rect x="338" y="503" width="3" height="55" fill="#646464"/>
<rect x="342" y="503" width="3" height="63" fill="#646464"/>
<rect x="346" y="503" width="3" height="72" fill="#646464"/>
<rect x="350" y="503" width="3" height="74" fill="#646464"/>
<rect x="354" y="503" width="3" height="74" fill="#646464"/>
<rect x="358" y="503" width="3" height="70" fill="#646464"/>
<rect x="362" y="503" width="3" height="66" fill="#646464"/>
<rect x="366" y="503" width="3" height="63" fill="#646464"/>
<rect x="370" y="503" width="3" height="61" fill="#646464"/>
<rect x="374" y="503" width="3" height="57" fill="#646464"/>
<rect x="378" y="503" width="3" height="53" fill="#646464"/>
<rect x="382" y="503" width="3" height="48" fill="#646464"/>
<rect x="386" y="503" width="3" height="40" fill="#646464"/>
<rect x="390" y="503" width="3" height="35" fill="#646464"/>
<rect x="394" y="503" width="3" height="30" fill="#646464"/>
<rect x="398" y="503" width="3" height="30" fill="#646464"/>
<rect x="402" y="503" width="3" height="26" fill="#646464"/>
<rect x="406" y="503" width="3" height="24" fill="#646464"/>
<rect x="410" y="503" width="3" height="16" fill="#646464"/>
<rect x="414" y="503" width="3" height="10" fill="#646464"/>
<rect x="418" y="503" width="3" height="5" fill="#646464"/>
<rect x="422" y="503" width="3" height="3" fill="#646464"/>
<rect x="426" y="503" width="3" height="1" fill="#646464"/>
<rect x="430" y="500" width="3" height="3" fill="#646464"/>
<rect x="434" y="495" width="3" height="8" fill="#646464"/>
<rect x="438" y="489" width="3" height="14" fill="#646464"/>
<rect x="442" y="486" width="3" height="17" fill="#646464"/>
<rect x="446" y="485" width="3" height="18" fill="#646464"/>
<rect x="450" y="486" width="3" height="17" fill="#646464"/>
<rect x="454" y="490" width="3" height="13" fill="#646464"/>
<rect x="458" y="495" width="3" height="8" fill="#646464"/>
<rect x="462" y="498" width="3" height="5" fill="#646464"/>
<rect x="466" y="499" width="3" height="4" fill="#646464"/>
<rect x="470" y="498" width="3" height="5" fill="#646464"/>
<rect x="474" y="500" width="3" height="3" fill="#646464"/>
<rect x="478" y="501" width="3" height="2" fill="#646464"/>
<rect x="482" y="502" width="3" height="1" fill="#646464"/>
<rect x="486" y="501" width="3" height="2" fill="#646464"/>
<rect x="490" y="500" width="3" height="3" fill="#646464"/>
<rect x="494" y="499" width="3" height="4" fill="#646464"/>
<rect x="498" y="494" width="3" height="9" fill="#646464"/>
<rect x="502" y="495" width="3" height="8" fill="#646464"/>
<rect x="506" y="502" width="3" height="1" fill="#646464"/>
<rect x="510" y="503" width="3" height="5" fill="#646464"/>
<rect x="514" y="503" width="3" height="8" fill="#646464"/>
<rect x="518" y="503" width="3" height="9" fill="#646464"/>
<rect x="522" y="503" width="3" height="9" fill="#646464"/>
<rect x="526" y="503" width="3" height="10" fill="#646464"/>
<rect x="530" y="503" width="3" height="11" fill="#646464"/>
<rect x="534" y="503" width="3" height="7" fill="#646464"/>
<rect x="538" y="503" width="3" height="3" fill="#646464"/>
<rect x="542" y="501" width="3" height="2" fill="#646464"/>
<rect x="546" y="499" width="3" height="4" fill="#646464"/>
<rect x="550" y="494" width="3" height="9" fill="#646464"/>
<rect x="554" y="490" width="3" height="13" fill="#646464"/>
<rect x="558" y="488" width="3" height="15" fill="#646464"/>
<rect x="562" y="490" width="3" height="13" fill="#646464"/>
<rect x="566" y="494" width="3" height="9" fill="#646464"/>
<rect x="570" y="498" width="3" height="5" fill="#646464"/>
<rect x="574" y="503" width="3" height="7" fill="#646464"/>
<rect x="578" y="503" width="3" height="9" fill="#646464"/>
<rect x="582" y="503" width="3" height="12" fill="#646464"/>
<rect x="586" y="503" width="3" height="15" fill="#646464"/>
<rect x="590" y="503" width="3" height="19" fill="#646464"/>
<rect x="594" y="503" width="3" height="21" fill="#646464"/>
<rect x="598" y="503" width="3" height="24" fill="#646464"/>
<rect x="602" y="503" width="3" height="22" fill="#646464"/>
<rect x="606" y="503" width="3" height="22" fill="#646464"/>
<rect x="610" y="503" width="3" height="22" fill="#646464"/>
<rect x="614" y="503" width="3" height="21" fill="#646464"/>
<rect x="618" y="503" width="3" height="17" fill="#646464"/>
<rect x="622" y="503" width="3" height="16" fill="#646464"/>
<rect x="626" y="503" width="3" height="17" fill="#646464"/>
<rect x="630" y="503" width="3" height="19" fill="#646464"/>
<rect x="634" y="503" width="3" height="19" fill="#646464"/>
<rect x="638" y="503" width="3" height="20" fill="#646464"/>
<rect x="642" y="503" width="3" height="19" fill="#646464"/>
<rect x="646" y="503" width="3" height="19" fill="#646464"/>
<rect x="650" y="503" width="3" height="18" fill="#646464"/>
<rect x="654" y="503" width="3" height="14" fill="#646464"/>
<rect x="658" y="503" width="3" height="9" fill="#646464"/>
<rect x="662" y="503" width="3" height="9" fill="#646464"/>
<rect x="666" y="503" width="3" height="8" fill="#646464"/>
<rect x="670" y="503" width="3" height="5" fill="#646464"/>
<rect x="674" y="502" width="3" height="1" fill="#646464"/>
<rect x="678" y="502" width="3" height="1" fill="#646464"/>
<rect x="682" y="502" width="3" height="1" fill="#646464"/>
<rect x="686" y="503" width="3" height="7" fill="#646464"/>
<rect x="690" y="503" width="3" height="20" fill="#646464"/>
<rect x="694" y="503" width="3" height="33" fill="#646464"/>
<rect x="698" y="503" width="3" height="41" fill="#646464"/>
<rect x="702" y="503" width="3" height="48" fill="#646464"/>
<rect x="706" y="503" width="3" height="52" fill="#646464"/>
<rect x="710" y="503" width="3" height="54" fill="#646464"/>
<rect x="714" y="503" width="3" height="54" fill="#646464"/>
<rect x="718" y="503" width="3" height="57" fill="#646464"/>
<rect x="722" y="503" width="3" height="55" fill="#646464"/>
<rect x="726" y="503" width="3" height="52" fill="#646464"/>
<rect x="730" y="503" width="3" height="48" fill="#646464"/>
<rect x="734" y="503" width="3" height="44" fill="#646464"/>
<polyline points="3,528 10,527.5 16,525.6 22,523.5 28,523.5 34,523.5 40,524.4 47,526.5 52.5,528.5 58.5,530.6 64,532.5 70,534.4 76,535.6 82,537.5 88.5,538.5 94,537.5 99,537 106,535 112.5,532 118.5,528 124,521.5 129,516.5 134,510.6 139.5,505 145,499 151,495 157,491 163,488 169,485.6 176,484.4 182,483.5 187.5,484.4 193,485.6 199.5,490.6 205,494.6 211,498 217.5,502 223,504.75 229,503 235,498.75 241,494.4 247,488.75 253,482.5 259,479.4 265,478.5 271,480.25 277,483.5 283,486.25 290,489 296,491 301,494 307,496 313.5,498 319,502 325,507 331,512.5 335.6,518 339.4,525 343,531 346,536 349.4,542.5 353,549 357,554 361,560.6 366,566 372.5,569.4 378,568.5 385,564 390,559 395,553.75 402.5,546 407.5,541 413,535 417.5,528.75 422.5,522.5 430,516 436,510 442.5,503.5 447.5,498 452.5,494.4 457.5,492.5 466,491 471,492.5 477.5,493.75 484,496.5 489,498.5 495,500.25 501,499.4 507,499.4 513,500.6 519,502.5 525,503.5 531,506 537,509 543,509.4 549,507.25 555,503.75 561,500 567.5,497.25 573,496.5 579,497.25 585,500 591,505.25 597.5,511.25 603.5,517 609.5,520.25 615,522.5 621.5,523 627.5,522.25 633.5,521.25 639,521.5 645,520.25 651,520.25 657,519.4 663.5,518.5 669.5,516.25 675.5,513 681,510 687.5,508.5 693,509.4 699.5,515.25 705,521.5 709.5,527.5 714,533.5 717.5,539.75 721.5,546 726,552 732.5,553.5 736,553.5" fill="none" stroke="#ff0000" stroke-width="1" stroke-dasharray="3,3"/>
<text x="6.5" y="480" font-size="9.7" fill="#000" stroke="#000" stroke-width="0.1" textLength="145" lengthAdjust="spacingAndGlyphs">MACD(12,26,9) -0.00133 -0.00156</text>
<text x="7.5" y="579" font-size="9.7" fill="#000" stroke="#000" stroke-width="0.1" textLength="247" lengthAdjust="spacingAndGlyphs">MT4 TeleTrade, © 2001-2014, MetaQuotes Software Corp.</text>
<rect x="761" y="469" width="2" height="1" fill="#000"/>
<text x="763.5" y="479" font-size="9.7" fill="#000" stroke="#000" stroke-width="0.1" textLength="33.5" lengthAdjust="spacingAndGlyphs">0.00106</text>
<rect x="761" y="503" width="2" height="1" fill="#000"/>
<text x="763.5" y="507" font-size="9.7" fill="#000" stroke="#000" stroke-width="0.1" textLength="19" lengthAdjust="spacingAndGlyphs">0.00</text>
<rect x="761" y="581" width="2" height="1" fill="#000"/>
<text x="763.5" y="579" font-size="9.7" fill="#000" stroke="#000" stroke-width="0.1" textLength="38" lengthAdjust="spacingAndGlyphs">-0.00241</text>
<rect x="2" y="2" width="759" height="1" fill="#000"/>
<rect x="2" y="2" width="1" height="464" fill="#000"/>
<rect x="2" y="465" width="759" height="1" fill="#000"/>
<rect x="760" y="2" width="1" height="464" fill="#000"/>
<rect x="2" y="467" width="759" height="1" fill="#000"/>
<rect x="2" y="467" width="1" height="116" fill="#000"/>
<rect x="2" y="582" width="759" height="1" fill="#000"/>
<rect x="760" y="467" width="1" height="116" fill="#000"/>
<rect x="3" y="583" width="1" height="3" fill="#000"/>
<text x="2.5" y="595" font-size="9.7" fill="#000" stroke="#000" stroke-width="0.1" textLength="52" lengthAdjust="spacingAndGlyphs">12 Sep 2014</text>
<rect x="67" y="583" width="1" height="3" fill="#000"/>
<text x="66.5" y="595" font-size="9.7" fill="#000" stroke="#000" stroke-width="0.1" textLength="55" lengthAdjust="spacingAndGlyphs">15 Sep 02:00</text>
<rect x="131" y="583" width="1" height="3" fill="#000"/>
<text x="130.5" y="595" font-size="9.7" fill="#000" stroke="#000" stroke-width="0.1" textLength="55" lengthAdjust="spacingAndGlyphs">15 Sep 18:00</text>
<rect x="195" y="583" width="1" height="3" fill="#000"/>
<text x="194.5" y="595" font-size="9.7" fill="#000" stroke="#000" stroke-width="0.1" textLength="55" lengthAdjust="spacingAndGlyphs">16 Sep 10:00</text>
<rect x="259" y="583" width="1" height="3" fill="#000"/>
<text x="258.5" y="595" font-size="9.7" fill="#000" stroke="#000" stroke-width="0.1" textLength="55" lengthAdjust="spacingAndGlyphs">17 Sep 02:00</text>
<rect x="323" y="583" width="1" height="3" fill="#000"/>
<text x="322.5" y="595" font-size="9.7" fill="#000" stroke="#000" stroke-width="0.1" textLength="55" lengthAdjust="spacingAndGlyphs">17 Sep 18:00</text>
<rect x="387" y="583" width="1" height="3" fill="#000"/>
<text x="386.5" y="595" font-size="9.7" fill="#000" stroke="#000" stroke-width="0.1" textLength="55" lengthAdjust="spacingAndGlyphs">18 Sep 10:00</text>
<rect x="451" y="583" width="1" height="3" fill="#000"/>
<text x="450.5" y="595" font-size="9.7" fill="#000" stroke="#000" stroke-width="0.1" textLength="55" lengthAdjust="spacingAndGlyphs">19 Sep 02:00</text>
<rect x="515" y="583" width="1" height="3" fill="#000"/>
<text x="514.5" y="595" font-size="9.7" fill="#000" stroke="#000" stroke-width="0.1" textLength="55" lengthAdjust="spacingAndGlyphs">19 Sep 18:00</text>
<rect x="579" y="583" width="1" height="3" fill="#000"/>
<text x="578.5" y="595" font-size="9.7" fill="#000" stroke="#000" stroke-width="0.1" textLength="55" lengthAdjust="spacingAndGlyphs">22 Sep 11:00</text>
<rect x="643" y="583" width="1" height="3" fill="#000"/>
<text x="642.5" y="595" font-size="9.7" fill="#000" stroke="#000" stroke-width="0.1" textLength="55" lengthAdjust="spacingAndGlyphs">23 Sep 03:00</text>
<rect x="707" y="583" width="1" height="3" fill="#000"/>
<text x="706.5" y="595" font-size="9.7" fill="#000" stroke="#000" stroke-width="0.1" textLength="55" lengthAdjust="spacingAndGlyphs">23 Sep 19:00</text>
</svg>
</body></html>
